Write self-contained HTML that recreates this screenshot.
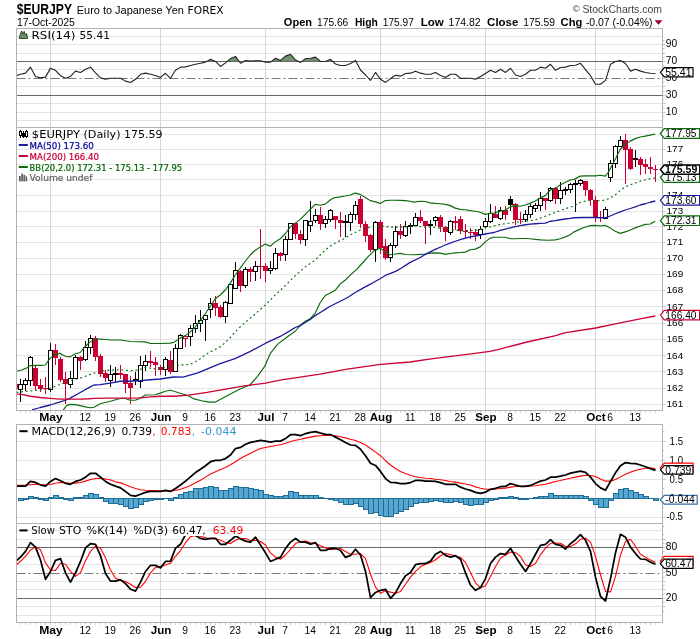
<!DOCTYPE html>
<html lang="en"><head><meta charset="utf-8"><title>$EURJPY Euro to Japanese Yen FOREX - StockCharts.com</title>
<style>html,body{margin:0;padding:0;background:#fff}svg{display:block;will-change:transform}text{white-space:pre}</style></head>
<body>
<svg width="700" height="639" viewBox="0 0 700 639" shape-rendering="auto">
<rect width="700" height="639" fill="#fff"/>
<defs>
<clipPath id="cR"><rect x="16.5" y="28.5" width="646.0" height="99.0"/></clipPath>
<clipPath id="cM"><rect x="16.5" y="127.5" width="646.0" height="283.0"/></clipPath>
<clipPath id="cD"><rect x="16.5" y="424.5" width="646.0" height="99.0"/></clipPath>
<clipPath id="cS"><rect x="16.5" y="536.0" width="229.5" height="86.5"/><rect x="246" y="523.5" width="416.5" height="99.0"/></clipPath>
</defs>
<text x="16.8" y="13.7" font-family="'Liberation Sans', 'Liberation Sans', sans-serif" font-size="14" font-weight="bold" fill="#000" text-anchor="start" textLength="55.2" lengthAdjust="spacingAndGlyphs" >$EURJPY</text>
<text x="76.8" y="14" font-family="'Liberation Sans', 'Liberation Sans', sans-serif" font-size="11" font-weight="normal" fill="#000" text-anchor="start" textLength="107" lengthAdjust="spacingAndGlyphs" >Euro to Japanese Yen</text>
<text x="187.6" y="14" font-family="'DejaVu Sans', 'Liberation Sans', sans-serif" font-size="10.4" font-weight="normal" fill="#000" text-anchor="start" textLength="36" lengthAdjust="spacingAndGlyphs" >FOREX</text>
<text x="17" y="26.3" font-family="'Liberation Sans', 'Liberation Sans', sans-serif" font-size="10.3" font-weight="normal" fill="#000" text-anchor="start" textLength="57.8" lengthAdjust="spacingAndGlyphs" >17-Oct-2025</text>
<text x="572.8" y="12.2" font-family="'Liberation Sans', 'Liberation Sans', sans-serif" font-size="9.6" font-weight="normal" fill="#444" text-anchor="start" >©</text>
<text x="582.4" y="12.6" font-family="'Liberation Sans', 'Liberation Sans', sans-serif" font-size="11.6" font-weight="normal" fill="#444" text-anchor="start" textLength="79.6" lengthAdjust="spacingAndGlyphs" >StockCharts.com</text>
<text x="283.8" y="26.2" font-family="'Liberation Sans', 'Liberation Sans', sans-serif" font-size="11" font-weight="bold" fill="#000" text-anchor="start" textLength="28.3" lengthAdjust="spacingAndGlyphs" >Open</text>
<text x="317" y="26.2" font-family="'Liberation Sans', 'Liberation Sans', sans-serif" font-size="10.3" font-weight="normal" fill="#000" text-anchor="start" textLength="31.3" lengthAdjust="spacingAndGlyphs" >175.66</text>
<text x="354.9" y="26.2" font-family="'Liberation Sans', 'Liberation Sans', sans-serif" font-size="11" font-weight="bold" fill="#000" text-anchor="start" textLength="23" lengthAdjust="spacingAndGlyphs" >High</text>
<text x="382.8" y="26.2" font-family="'Liberation Sans', 'Liberation Sans', sans-serif" font-size="10.3" font-weight="normal" fill="#000" text-anchor="start" textLength="31" lengthAdjust="spacingAndGlyphs" >175.97</text>
<text x="420.7" y="26.2" font-family="'Liberation Sans', 'Liberation Sans', sans-serif" font-size="11" font-weight="bold" fill="#000" text-anchor="start" textLength="23" lengthAdjust="spacingAndGlyphs" >Low</text>
<text x="448.6" y="26.2" font-family="'Liberation Sans', 'Liberation Sans', sans-serif" font-size="10.3" font-weight="normal" fill="#000" text-anchor="start" textLength="31.9" lengthAdjust="spacingAndGlyphs" >174.82</text>
<text x="487.1" y="26.2" font-family="'Liberation Sans', 'Liberation Sans', sans-serif" font-size="11" font-weight="bold" fill="#000" text-anchor="start" textLength="31.3" lengthAdjust="spacingAndGlyphs" >Close</text>
<text x="523.3" y="26.2" font-family="'Liberation Sans', 'Liberation Sans', sans-serif" font-size="10.3" font-weight="normal" fill="#000" text-anchor="start" textLength="31.6" lengthAdjust="spacingAndGlyphs" >175.59</text>
<text x="560.6" y="26.2" font-family="'Liberation Sans', 'Liberation Sans', sans-serif" font-size="11" font-weight="bold" fill="#000" text-anchor="start" textLength="21.7" lengthAdjust="spacingAndGlyphs" >Chg</text>
<text x="585.9" y="26.2" font-family="'Liberation Sans', 'Liberation Sans', sans-serif" font-size="10.4" font-weight="normal" fill="#000" text-anchor="start" textLength="66.5" lengthAdjust="spacingAndGlyphs" >-0.07 (-0.04%)</text>
<polygon points="654.6,20.3 662.4,20.3 658.5,24.7" fill="#990033"/>
<line x1="16.5" y1="120.5" x2="662.5" y2="120.5" stroke="#e4e4e4" stroke-width="1" />
<line x1="16.5" y1="112.5" x2="662.5" y2="112.5" stroke="#e4e4e4" stroke-width="1" />
<line x1="16.5" y1="103.5" x2="662.5" y2="103.5" stroke="#e4e4e4" stroke-width="1" />
<line x1="16.5" y1="86.5" x2="662.5" y2="86.5" stroke="#e4e4e4" stroke-width="1" />
<line x1="16.5" y1="69.5" x2="662.5" y2="69.5" stroke="#e4e4e4" stroke-width="1" />
<line x1="16.5" y1="53.5" x2="662.5" y2="53.5" stroke="#e4e4e4" stroke-width="1" />
<line x1="16.5" y1="44.5" x2="662.5" y2="44.5" stroke="#e4e4e4" stroke-width="1" />
<line x1="16.5" y1="36.5" x2="662.5" y2="36.5" stroke="#e4e4e4" stroke-width="1" />
<line x1="50.5" y1="28.5" x2="50.5" y2="129.5" stroke="#d6d6d6" stroke-width="1"/>
<line x1="160.5" y1="28.5" x2="160.5" y2="129.5" stroke="#d6d6d6" stroke-width="1"/>
<line x1="265.5" y1="28.5" x2="265.5" y2="129.5" stroke="#d6d6d6" stroke-width="1"/>
<line x1="380.5" y1="28.5" x2="380.5" y2="129.5" stroke="#d6d6d6" stroke-width="1"/>
<line x1="485.5" y1="28.5" x2="485.5" y2="129.5" stroke="#d6d6d6" stroke-width="1"/>
<line x1="595.5" y1="28.5" x2="595.5" y2="129.5" stroke="#d6d6d6" stroke-width="1"/>
<polygon clip-path="url(#cR)" points="16.5,61.47 16.5,61.47 20.5,61.47 25.5,61.47 30.5,61.47 35.5,61.47 40.5,61.47 45.5,61.47 50.5,61.47 55.5,61.47 60.5,61.47 65.5,61.47 70.5,61.47 75.5,61.47 80.5,61.47 85.5,61.47 90.5,61.47 95.5,61.47 100.5,61.47 105.5,61.47 110.5,61.47 115.5,61.47 120.5,61.47 125.5,61.47 130.5,61.47 135.5,61.47 140.5,61.47 145.5,61.47 150.5,61.47 155.5,61.47 160.5,61.47 165.5,61.47 170.5,61.47 175.5,61.47 180.5,61.47 185.5,61.47 190.5,61.47 195.5,61.47 200.5,61.47 205.5,61.47 206.67,61.47 210.5,59.29 215.5,61.43 215.55,61.47 220.5,61.47 225.5,61.47 227.11,61.47 230.5,58.57 235.5,56.43 239.18,61.47 240.5,61.47 243.67,61.47 245.5,60.43 250.5,61.14 255.5,60.71 260.5,60.71 263.16,61.47 265.5,61.47 270.5,61.47 271.37,61.47 275.5,58.29 280.5,60.43 285.5,56.14 290.5,54.29 295.5,60 298.54,61.47 300.5,61.47 301.74,61.47 305.5,58.57 310.5,58.29 315.5,57.14 320.5,61.43 325.5,61.43 330.5,59.29 332.82,61.47 335.5,61.47 340.5,61.47 345.5,61.47 350.5,61.47 353.84,61.47 355.5,60.43 356.05,61.47 360.5,61.47 365.5,61.47 370.5,61.47 375.5,61.47 380.5,61.47 385.5,61.47 390.5,61.47 395.5,61.47 400.5,61.47 405.5,61.47 410.5,61.47 415.5,61.47 420.5,61.47 425.5,61.47 430.5,61.47 435.5,61.47 440.5,61.47 445.5,61.47 450.5,61.47 455.5,61.47 460.5,61.47 465.5,61.47 470.5,61.47 475.5,61.47 480.5,61.47 485.5,61.47 490.5,61.47 495.5,61.47 500.5,61.47 505.5,61.47 510.5,61.47 515.5,61.47 520.5,61.47 525.5,61.47 530.5,61.47 535.5,61.47 540.5,61.47 545.5,61.47 550.5,61.47 555.5,61.47 560.5,61.47 565.5,61.47 570.5,61.47 575.5,61.47 580.5,61.47 585.5,61.47 590.5,61.47 595.5,61.47 600.5,61.47 605.5,61.47 610.5,61.47 615.42,61.47 615.5,61.43 620.5,60.43 622.16,61.47 625.5,61.47 630.5,61.47 635.5,61.47 640.5,61.47 645.5,61.47 650.5,61.47 655.5,61.47 655.5,61.47" fill="#6e936e"/>
<line x1="16.5" y1="61.5" x2="662.5" y2="61.5" stroke="#666" stroke-width="1" />
<line x1="16.5" y1="95.5" x2="662.5" y2="95.5" stroke="#666" stroke-width="1" />
<line x1="16.5" y1="78.5" x2="662.5" y2="78.5" stroke="#777" stroke-width="1" stroke-dasharray="9 3 2 3"/>
<polyline points="16.5,75.71 20.5,74.29 25.5,73.14 30.5,67.14 35.5,76.43 40.5,77.86 45.5,77.14 50.5,68.14 55.5,70.29 60.5,75.71 65.5,78.29 70.5,76.43 75.5,71.14 80.5,72.43 85.5,69.29 90.5,67.14 95.5,72.86 100.5,77.86 105.5,79.29 110.5,78.29 115.5,78.29 120.5,78.29 125.5,81.14 130.5,82.43 135.5,79.29 140.5,74.29 145.5,73.14 150.5,74.29 155.5,75.43 160.5,77.43 165.5,73.29 170.5,78.29 175.5,70.29 180.5,67.14 185.5,66.86 190.5,65.43 195.5,64.29 200.5,63.29 205.5,62.14 210.5,59.29 215.5,61.43 220.5,66.43 225.5,62.86 230.5,58.57 235.5,56.43 240.5,63.29 245.5,60.43 250.5,61.14 255.5,60.71 260.5,60.71 265.5,62.14 270.5,62.14 275.5,58.29 280.5,60.43 285.5,56.14 290.5,54.29 295.5,60 300.5,62.43 305.5,58.57 310.5,58.29 315.5,57.14 320.5,61.43 325.5,61.43 330.5,59.29 335.5,64 340.5,65.43 345.5,65.43 350.5,63.57 355.5,60.43 360.5,70 365.5,75 370.5,80.43 375.5,72.43 380.5,79.29 385.5,82.43 390.5,78.57 395.5,75.29 400.5,76.14 405.5,73.57 410.5,73.14 415.5,71.14 420.5,73.14 425.5,74.29 430.5,74.29 435.5,72.43 440.5,75.43 445.5,77.57 450.5,74.29 455.5,74.29 460.5,78.14 465.5,78.29 470.5,78.29 475.5,79.29 480.5,76.43 485.5,73.57 490.5,70.29 495.5,72.43 500.5,69.29 505.5,72.43 510.5,68.29 515.5,75 520.5,76.43 525.5,74.29 530.5,70.29 535.5,70.29 540.5,67.14 545.5,68.29 550.5,64.29 555.5,70.29 560.5,67.43 565.5,67.14 570.5,65.43 575.5,65.29 580.5,63.29 585.5,69.57 590.5,75.71 595.5,84.29 600.5,84.29 605.5,80.43 610.5,64.29 615.5,61.43 620.5,60.43 625.5,63.57 630.5,71.14 635.5,69.29 640.5,71.14 645.5,72.43 650.5,73.29 655.5,73.57" fill="none" stroke="#222" stroke-width="1.1" stroke-linejoin="round" stroke-linecap="butt" />
<rect x="16.5" y="28.5" width="646.0" height="99.0" fill="none" stroke="#b2b2b2" stroke-width="1"/>
<line x1="662.5" y1="116.5" x2="664.5" y2="116.5" stroke="#c0c0c0" stroke-width="1"/>
<line x1="662.5" y1="108.5" x2="664.5" y2="108.5" stroke="#c0c0c0" stroke-width="1"/>
<line x1="662.5" y1="99.5" x2="664.5" y2="99.5" stroke="#c0c0c0" stroke-width="1"/>
<line x1="662.5" y1="91.5" x2="664.5" y2="91.5" stroke="#c0c0c0" stroke-width="1"/>
<line x1="662.5" y1="82.5" x2="664.5" y2="82.5" stroke="#c0c0c0" stroke-width="1"/>
<line x1="662.5" y1="74.5" x2="664.5" y2="74.5" stroke="#c0c0c0" stroke-width="1"/>
<line x1="662.5" y1="65.5" x2="664.5" y2="65.5" stroke="#c0c0c0" stroke-width="1"/>
<line x1="662.5" y1="57.5" x2="664.5" y2="57.5" stroke="#c0c0c0" stroke-width="1"/>
<line x1="662.5" y1="48.5" x2="664.5" y2="48.5" stroke="#c0c0c0" stroke-width="1"/>
<line x1="662.5" y1="40.5" x2="664.5" y2="40.5" stroke="#c0c0c0" stroke-width="1"/>
<line x1="662.5" y1="112.5" x2="665.5" y2="112.5" stroke="#c4c4c4" stroke-width="1"/>
<line x1="662.5" y1="103.5" x2="665.5" y2="103.5" stroke="#c4c4c4" stroke-width="1"/>
<line x1="662.5" y1="95.5" x2="665.5" y2="95.5" stroke="#c4c4c4" stroke-width="1"/>
<line x1="662.5" y1="86.5" x2="665.5" y2="86.5" stroke="#c4c4c4" stroke-width="1"/>
<line x1="662.5" y1="78.5" x2="665.5" y2="78.5" stroke="#c4c4c4" stroke-width="1"/>
<line x1="662.5" y1="69.5" x2="665.5" y2="69.5" stroke="#c4c4c4" stroke-width="1"/>
<line x1="662.5" y1="61.5" x2="665.5" y2="61.5" stroke="#c4c4c4" stroke-width="1"/>
<line x1="662.5" y1="53.5" x2="665.5" y2="53.5" stroke="#c4c4c4" stroke-width="1"/>
<line x1="662.5" y1="44.5" x2="665.5" y2="44.5" stroke="#c4c4c4" stroke-width="1"/>
<text x="665.8" y="47.42" font-family="'Liberation Sans', 'Liberation Sans', sans-serif" font-size="10.3" font-weight="normal" fill="#000" text-anchor="start" textLength="11.4" lengthAdjust="spacingAndGlyphs" >90</text>
<text x="665.8" y="64.38" font-family="'Liberation Sans', 'Liberation Sans', sans-serif" font-size="10.3" font-weight="normal" fill="#000" text-anchor="start" textLength="11.4" lengthAdjust="spacingAndGlyphs" >70</text>
<text x="665.8" y="81.33" font-family="'Liberation Sans', 'Liberation Sans', sans-serif" font-size="10.3" font-weight="normal" fill="#000" text-anchor="start" textLength="11.4" lengthAdjust="spacingAndGlyphs" >50</text>
<text x="665.8" y="98.28" font-family="'Liberation Sans', 'Liberation Sans', sans-serif" font-size="10.3" font-weight="normal" fill="#000" text-anchor="start" textLength="11.4" lengthAdjust="spacingAndGlyphs" >30</text>
<text x="665.8" y="115.23" font-family="'Liberation Sans', 'Liberation Sans', sans-serif" font-size="10.3" font-weight="normal" fill="#000" text-anchor="start" textLength="11.4" lengthAdjust="spacingAndGlyphs" >10</text>
<polygon points="660.4,72.3 664.3,67.7 693,67.7 693,76.9 664.3,76.9" fill="#fff" stroke="#000" stroke-width="1.2" stroke-linejoin="miter"/>
<text x="665.3" y="75.9" font-family="'Liberation Sans', 'Liberation Sans', sans-serif" font-size="10" font-weight="normal" fill="#000" text-anchor="start" textLength="26.2" lengthAdjust="spacingAndGlyphs" >55.41</text>
<polygon points="19.2,38.4 19.6,36.2 21.6,31 23,34.2 24.2,31.4 25.6,35.2 26.6,33.6 27.6,38.4" fill="#6e936e" stroke="#1d3a1d" stroke-width="0.9" stroke-linejoin="round"/>
<text x="31.6" y="38.7" font-family="'DejaVu Sans', 'Liberation Sans', sans-serif" font-size="9.7" font-weight="normal" fill="#000" text-anchor="start" textLength="43.8" lengthAdjust="spacingAndGlyphs" >RSI(14)</text>
<text x="79.6" y="38.7" font-family="'DejaVu Sans', 'Liberation Sans', sans-serif" font-size="9.7" font-weight="normal" fill="#000" text-anchor="start" textLength="30.3" lengthAdjust="spacingAndGlyphs" >55.41</text>
<line x1="16.5" y1="404.5" x2="662.5" y2="404.5" stroke="#e4e4e4" stroke-width="1" />
<line x1="16.5" y1="388.5" x2="662.5" y2="388.5" stroke="#e4e4e4" stroke-width="1" />
<line x1="16.5" y1="371.5" x2="662.5" y2="371.5" stroke="#e4e4e4" stroke-width="1" />
<line x1="16.5" y1="355.5" x2="662.5" y2="355.5" stroke="#e4e4e4" stroke-width="1" />
<line x1="16.5" y1="339.5" x2="662.5" y2="339.5" stroke="#e4e4e4" stroke-width="1" />
<line x1="16.5" y1="323.5" x2="662.5" y2="323.5" stroke="#e4e4e4" stroke-width="1" />
<line x1="16.5" y1="306.5" x2="662.5" y2="306.5" stroke="#e4e4e4" stroke-width="1" />
<line x1="16.5" y1="290.5" x2="662.5" y2="290.5" stroke="#e4e4e4" stroke-width="1" />
<line x1="16.5" y1="274.5" x2="662.5" y2="274.5" stroke="#e4e4e4" stroke-width="1" />
<line x1="16.5" y1="258.5" x2="662.5" y2="258.5" stroke="#e4e4e4" stroke-width="1" />
<line x1="16.5" y1="242.5" x2="662.5" y2="242.5" stroke="#e4e4e4" stroke-width="1" />
<line x1="16.5" y1="226.5" x2="662.5" y2="226.5" stroke="#e4e4e4" stroke-width="1" />
<line x1="16.5" y1="211.5" x2="662.5" y2="211.5" stroke="#e4e4e4" stroke-width="1" />
<line x1="16.5" y1="195.5" x2="662.5" y2="195.5" stroke="#e4e4e4" stroke-width="1" />
<line x1="16.5" y1="179.5" x2="662.5" y2="179.5" stroke="#e4e4e4" stroke-width="1" />
<line x1="16.5" y1="164.5" x2="662.5" y2="164.5" stroke="#e4e4e4" stroke-width="1" />
<line x1="16.5" y1="149.5" x2="662.5" y2="149.5" stroke="#e4e4e4" stroke-width="1" />
<line x1="16.5" y1="134.5" x2="662.5" y2="134.5" stroke="#e4e4e4" stroke-width="1" />
<line x1="50.5" y1="127.5" x2="50.5" y2="412.5" stroke="#d6d6d6" stroke-width="1"/>
<line x1="160.5" y1="127.5" x2="160.5" y2="412.5" stroke="#d6d6d6" stroke-width="1"/>
<line x1="265.5" y1="127.5" x2="265.5" y2="412.5" stroke="#d6d6d6" stroke-width="1"/>
<line x1="380.5" y1="127.5" x2="380.5" y2="412.5" stroke="#d6d6d6" stroke-width="1"/>
<line x1="485.5" y1="127.5" x2="485.5" y2="412.5" stroke="#d6d6d6" stroke-width="1"/>
<line x1="595.5" y1="127.5" x2="595.5" y2="412.5" stroke="#d6d6d6" stroke-width="1"/>
<g clip-path="url(#cM)">
<rect x="15" y="384" width="1" height="5" fill="#cc0033"/>
<rect x="13" y="384" width="5" height="5" fill="#cc0033"/>
<rect x="20" y="379" width="1" height="23" fill="#000"/>
<rect x="18.5" y="384.5" width="4" height="5" fill="#fff" stroke="#000" stroke-width="1"/>
<rect x="25" y="378" width="1" height="13" fill="#000"/>
<rect x="23.5" y="380.5" width="4" height="4" fill="#fff" stroke="#000" stroke-width="1"/>
<rect x="30" y="356" width="1" height="30" fill="#000"/>
<rect x="28.5" y="357.5" width="4" height="23" fill="#fff" stroke="#000" stroke-width="1"/>
<rect x="35" y="366" width="1" height="24" fill="#cc0033"/>
<rect x="33" y="368" width="5" height="18" fill="#cc0033"/>
<rect x="40" y="379" width="1" height="13" fill="#cc0033"/>
<rect x="38" y="385" width="5" height="4" fill="#cc0033"/>
<rect x="45" y="377" width="1" height="17" fill="#cc0033"/>
<rect x="43" y="388" width="5" height="1" fill="#cc0033"/>
<rect x="50" y="343" width="1" height="49" fill="#000"/>
<rect x="48.5" y="350.5" width="4" height="39" fill="#fff" stroke="#000" stroke-width="1"/>
<rect x="55" y="344" width="1" height="21" fill="#cc0033"/>
<rect x="53" y="350" width="5" height="8" fill="#cc0033"/>
<rect x="60" y="357" width="1" height="25" fill="#cc0033"/>
<rect x="58" y="359" width="5" height="21" fill="#cc0033"/>
<rect x="65" y="372" width="1" height="32" fill="#cc0033"/>
<rect x="63" y="379" width="5" height="5" fill="#cc0033"/>
<rect x="70" y="371" width="1" height="17" fill="#000"/>
<rect x="68.5" y="378.5" width="4" height="6" fill="#fff" stroke="#000" stroke-width="1"/>
<rect x="75" y="355" width="1" height="24" fill="#000"/>
<rect x="73.5" y="357.5" width="4" height="21" fill="#fff" stroke="#000" stroke-width="1"/>
<rect x="80" y="356" width="1" height="14" fill="#cc0033"/>
<rect x="78" y="357" width="5" height="4" fill="#cc0033"/>
<rect x="85" y="341" width="1" height="20" fill="#000"/>
<rect x="83.5" y="347.5" width="4" height="12" fill="#fff" stroke="#000" stroke-width="1"/>
<rect x="90" y="335" width="1" height="19" fill="#000"/>
<rect x="88.5" y="338.5" width="4" height="9" fill="#fff" stroke="#000" stroke-width="1"/>
<rect x="95" y="336" width="1" height="25" fill="#cc0033"/>
<rect x="93" y="338" width="5" height="19" fill="#cc0033"/>
<rect x="100" y="354" width="1" height="23" fill="#cc0033"/>
<rect x="98" y="356" width="5" height="18" fill="#cc0033"/>
<rect x="105" y="370" width="1" height="12" fill="#cc0033"/>
<rect x="103" y="373" width="5" height="5" fill="#cc0033"/>
<rect x="110" y="365" width="1" height="22" fill="#000"/>
<rect x="108.5" y="374.5" width="4" height="6" fill="#fff" stroke="#000" stroke-width="1"/>
<rect x="115" y="367" width="1" height="15" fill="#000"/>
<rect x="113" y="373" width="5" height="2" fill="#000"/>
<rect x="120" y="365" width="1" height="14" fill="#cc0033"/>
<rect x="118" y="373" width="5" height="2" fill="#cc0033"/>
<rect x="125" y="374" width="1" height="19" fill="#cc0033"/>
<rect x="123" y="374" width="5" height="10" fill="#cc0033"/>
<rect x="130" y="376" width="1" height="28" fill="#cc0033"/>
<rect x="128" y="383" width="5" height="5" fill="#cc0033"/>
<rect x="135" y="372" width="1" height="13" fill="#000"/>
<rect x="133" y="379" width="5" height="2" fill="#000"/>
<rect x="140" y="356" width="1" height="32" fill="#000"/>
<rect x="138.5" y="365.5" width="4" height="16" fill="#fff" stroke="#000" stroke-width="1"/>
<rect x="145" y="355" width="1" height="16" fill="#000"/>
<rect x="143.5" y="361.5" width="4" height="4" fill="#fff" stroke="#000" stroke-width="1"/>
<rect x="150" y="351" width="1" height="16" fill="#cc0033"/>
<rect x="148" y="361" width="5" height="2" fill="#cc0033"/>
<rect x="155" y="357" width="1" height="19" fill="#cc0033"/>
<rect x="153" y="362" width="5" height="3" fill="#cc0033"/>
<rect x="160" y="365" width="1" height="10" fill="#cc0033"/>
<rect x="158" y="367" width="5" height="3" fill="#cc0033"/>
<rect x="165" y="357" width="1" height="19" fill="#000"/>
<rect x="163.5" y="359.5" width="4" height="10" fill="#fff" stroke="#000" stroke-width="1"/>
<rect x="170" y="351" width="1" height="23" fill="#cc0033"/>
<rect x="168" y="360" width="5" height="12" fill="#cc0033"/>
<rect x="175" y="344" width="1" height="28" fill="#000"/>
<rect x="173.5" y="348.5" width="4" height="23" fill="#fff" stroke="#000" stroke-width="1"/>
<rect x="180" y="334" width="1" height="15" fill="#000"/>
<rect x="178.5" y="335.5" width="4" height="13" fill="#fff" stroke="#000" stroke-width="1"/>
<rect x="185" y="336" width="1" height="11" fill="#cc0033"/>
<rect x="183.5" y="336.5" width="4" height="2" fill="#fff" stroke="#cc0033" stroke-width="1"/>
<rect x="190" y="325" width="1" height="21" fill="#000"/>
<rect x="188.5" y="328.5" width="4" height="8" fill="#fff" stroke="#000" stroke-width="1"/>
<rect x="195" y="315" width="1" height="18" fill="#000"/>
<rect x="193.5" y="323.5" width="4" height="5" fill="#fff" stroke="#000" stroke-width="1"/>
<rect x="200" y="310" width="1" height="22" fill="#000"/>
<rect x="198.5" y="320.5" width="4" height="3" fill="#fff" stroke="#000" stroke-width="1"/>
<rect x="205" y="315" width="1" height="26" fill="#000"/>
<rect x="203.5" y="315.5" width="4" height="4" fill="#fff" stroke="#000" stroke-width="1"/>
<rect x="210" y="298" width="1" height="20" fill="#000"/>
<rect x="208.5" y="303.5" width="4" height="6" fill="#fff" stroke="#000" stroke-width="1"/>
<rect x="215" y="296" width="1" height="20" fill="#cc0033"/>
<rect x="213" y="303" width="5" height="5" fill="#cc0033"/>
<rect x="220" y="305" width="1" height="13" fill="#cc0033"/>
<rect x="218" y="307" width="5" height="10" fill="#cc0033"/>
<rect x="225" y="301" width="1" height="22" fill="#000"/>
<rect x="223.5" y="302.5" width="4" height="14" fill="#fff" stroke="#000" stroke-width="1"/>
<rect x="230" y="284" width="1" height="20" fill="#000"/>
<rect x="228.5" y="284.5" width="4" height="19" fill="#fff" stroke="#000" stroke-width="1"/>
<rect x="235" y="262" width="1" height="27" fill="#000"/>
<rect x="233.5" y="270.5" width="4" height="18" fill="#fff" stroke="#000" stroke-width="1"/>
<rect x="240" y="270" width="1" height="22" fill="#cc0033"/>
<rect x="238" y="271" width="5" height="15" fill="#cc0033"/>
<rect x="245" y="267" width="1" height="21" fill="#000"/>
<rect x="243.5" y="269.5" width="4" height="16" fill="#fff" stroke="#000" stroke-width="1"/>
<rect x="250" y="267" width="1" height="15" fill="#cc0033"/>
<rect x="248" y="269" width="5" height="3" fill="#cc0033"/>
<rect x="255" y="261" width="1" height="20" fill="#000"/>
<rect x="253.5" y="266.5" width="4" height="5" fill="#fff" stroke="#000" stroke-width="1"/>
<rect x="260" y="229" width="1" height="50" fill="#cc0033"/>
<rect x="258" y="266" width="5" height="1" fill="#cc0033"/>
<rect x="265" y="263" width="1" height="19" fill="#cc0033"/>
<rect x="263" y="266" width="5" height="5" fill="#cc0033"/>
<rect x="270" y="261" width="1" height="13" fill="#000"/>
<rect x="268.5" y="268.5" width="4" height="2" fill="#fff" stroke="#000" stroke-width="1"/>
<rect x="275" y="248" width="1" height="22" fill="#000"/>
<rect x="273.5" y="253.5" width="4" height="15" fill="#fff" stroke="#000" stroke-width="1"/>
<rect x="280" y="252" width="1" height="9" fill="#cc0033"/>
<rect x="278" y="253" width="5" height="3" fill="#cc0033"/>
<rect x="285" y="236" width="1" height="25" fill="#000"/>
<rect x="283.5" y="239.5" width="4" height="15" fill="#fff" stroke="#000" stroke-width="1"/>
<rect x="290" y="223" width="1" height="17" fill="#000"/>
<rect x="288.5" y="223.5" width="4" height="16" fill="#fff" stroke="#000" stroke-width="1"/>
<rect x="295" y="223" width="1" height="16" fill="#cc0033"/>
<rect x="293" y="223" width="5" height="11" fill="#cc0033"/>
<rect x="300" y="230" width="1" height="14" fill="#cc0033"/>
<rect x="298" y="234" width="5" height="6" fill="#cc0033"/>
<rect x="305" y="220" width="1" height="26" fill="#000"/>
<rect x="303.5" y="220.5" width="4" height="19" fill="#fff" stroke="#000" stroke-width="1"/>
<rect x="310" y="201" width="1" height="31" fill="#000"/>
<rect x="308.5" y="221.5" width="4" height="4" fill="#fff" stroke="#000" stroke-width="1"/>
<rect x="315" y="209" width="1" height="14" fill="#000"/>
<rect x="313.5" y="215.5" width="4" height="5" fill="#fff" stroke="#000" stroke-width="1"/>
<rect x="320" y="207" width="1" height="23" fill="#cc0033"/>
<rect x="318" y="215" width="5" height="9" fill="#cc0033"/>
<rect x="325" y="216" width="1" height="12" fill="#000"/>
<rect x="323.5" y="219.5" width="4" height="4" fill="#fff" stroke="#000" stroke-width="1"/>
<rect x="330" y="209" width="1" height="13" fill="#000"/>
<rect x="328.5" y="210.5" width="4" height="9" fill="#fff" stroke="#000" stroke-width="1"/>
<rect x="335" y="216" width="1" height="13" fill="#cc0033"/>
<rect x="333" y="216" width="5" height="4" fill="#cc0033"/>
<rect x="340" y="212" width="1" height="25" fill="#cc0033"/>
<rect x="338" y="220" width="5" height="3" fill="#cc0033"/>
<rect x="345" y="215" width="1" height="22" fill="#000"/>
<rect x="343" y="221" width="5" height="2" fill="#000"/>
<rect x="350" y="212" width="1" height="19" fill="#000"/>
<rect x="348.5" y="214.5" width="4" height="8" fill="#fff" stroke="#000" stroke-width="1"/>
<rect x="355" y="201" width="1" height="19" fill="#000"/>
<rect x="353.5" y="205.5" width="4" height="9" fill="#fff" stroke="#000" stroke-width="1"/>
<rect x="360" y="196" width="1" height="32" fill="#cc0033"/>
<rect x="358" y="199" width="5" height="25" fill="#cc0033"/>
<rect x="365" y="221" width="1" height="21" fill="#cc0033"/>
<rect x="363" y="224" width="5" height="12" fill="#cc0033"/>
<rect x="370" y="234" width="1" height="18" fill="#cc0033"/>
<rect x="368" y="235" width="5" height="15" fill="#cc0033"/>
<rect x="375" y="221" width="1" height="41" fill="#000"/>
<rect x="373.5" y="222.5" width="4" height="27" fill="#fff" stroke="#000" stroke-width="1"/>
<rect x="380" y="220" width="1" height="34" fill="#cc0033"/>
<rect x="378" y="222" width="5" height="26" fill="#cc0033"/>
<rect x="385" y="239" width="1" height="21" fill="#cc0033"/>
<rect x="383" y="246" width="5" height="12" fill="#cc0033"/>
<rect x="390" y="243" width="1" height="19" fill="#000"/>
<rect x="388.5" y="245.5" width="4" height="12" fill="#fff" stroke="#000" stroke-width="1"/>
<rect x="395" y="226" width="1" height="22" fill="#000"/>
<rect x="393.5" y="231.5" width="4" height="14" fill="#fff" stroke="#000" stroke-width="1"/>
<rect x="400" y="224" width="1" height="15" fill="#cc0033"/>
<rect x="398" y="231" width="5" height="4" fill="#cc0033"/>
<rect x="405" y="221" width="1" height="16" fill="#000"/>
<rect x="403.5" y="226.5" width="4" height="9" fill="#fff" stroke="#000" stroke-width="1"/>
<rect x="410" y="223" width="1" height="11" fill="#000"/>
<rect x="408" y="225" width="5" height="2" fill="#000"/>
<rect x="415" y="213" width="1" height="13" fill="#000"/>
<rect x="413.5" y="217.5" width="4" height="8" fill="#fff" stroke="#000" stroke-width="1"/>
<rect x="420" y="210" width="1" height="13" fill="#cc0033"/>
<rect x="418" y="217" width="5" height="4" fill="#cc0033"/>
<rect x="425" y="221" width="1" height="23" fill="#cc0033"/>
<rect x="423" y="221" width="5" height="5" fill="#cc0033"/>
<rect x="430" y="220" width="1" height="15" fill="#000"/>
<rect x="428" y="224" width="5" height="2" fill="#000"/>
<rect x="435" y="216" width="1" height="10" fill="#000"/>
<rect x="433.5" y="217.5" width="4" height="3" fill="#fff" stroke="#000" stroke-width="1"/>
<rect x="440" y="215" width="1" height="17" fill="#cc0033"/>
<rect x="438" y="217" width="5" height="10" fill="#cc0033"/>
<rect x="445" y="226" width="1" height="15" fill="#cc0033"/>
<rect x="443" y="227" width="5" height="5" fill="#cc0033"/>
<rect x="450" y="220" width="1" height="15" fill="#000"/>
<rect x="448.5" y="221.5" width="4" height="11" fill="#fff" stroke="#000" stroke-width="1"/>
<rect x="455" y="216" width="1" height="14" fill="#cc0033"/>
<rect x="453" y="221" width="5" height="2" fill="#cc0033"/>
<rect x="460" y="216" width="1" height="18" fill="#cc0033"/>
<rect x="458" y="219" width="5" height="12" fill="#cc0033"/>
<rect x="465" y="224" width="1" height="14" fill="#cc0033"/>
<rect x="463" y="231" width="5" height="1" fill="#cc0033"/>
<rect x="470" y="228" width="1" height="11" fill="#cc0033"/>
<rect x="468" y="232" width="5" height="1" fill="#cc0033"/>
<rect x="475" y="229" width="1" height="12" fill="#cc0033"/>
<rect x="473" y="232" width="5" height="3" fill="#cc0033"/>
<rect x="480" y="226" width="1" height="13" fill="#000"/>
<rect x="478.5" y="229.5" width="4" height="5" fill="#fff" stroke="#000" stroke-width="1"/>
<rect x="485" y="218" width="1" height="10" fill="#000"/>
<rect x="483.5" y="221.5" width="4" height="5" fill="#fff" stroke="#000" stroke-width="1"/>
<rect x="490" y="204" width="1" height="19" fill="#000"/>
<rect x="488.5" y="213.5" width="4" height="8" fill="#fff" stroke="#000" stroke-width="1"/>
<rect x="495" y="206" width="1" height="12" fill="#cc0033"/>
<rect x="493" y="214" width="5" height="4" fill="#cc0033"/>
<rect x="500" y="207" width="1" height="13" fill="#000"/>
<rect x="498.5" y="210.5" width="4" height="8" fill="#fff" stroke="#000" stroke-width="1"/>
<rect x="505" y="206" width="1" height="14" fill="#cc0033"/>
<rect x="503" y="210" width="5" height="5" fill="#cc0033"/>
<rect x="510" y="196" width="1" height="15" fill="#000"/>
<rect x="508" y="199" width="5" height="6" fill="#000"/>
<rect x="515" y="203" width="1" height="22" fill="#cc0033"/>
<rect x="513" y="204" width="5" height="16" fill="#cc0033"/>
<rect x="520" y="212" width="1" height="12" fill="#cc0033"/>
<rect x="518" y="219" width="5" height="1" fill="#cc0033"/>
<rect x="525" y="210" width="1" height="12" fill="#000"/>
<rect x="523.5" y="214.5" width="4" height="5" fill="#fff" stroke="#000" stroke-width="1"/>
<rect x="530" y="204" width="1" height="14" fill="#000"/>
<rect x="528.5" y="206.5" width="4" height="8" fill="#fff" stroke="#000" stroke-width="1"/>
<rect x="535" y="203" width="1" height="9" fill="#000"/>
<rect x="533.5" y="205.5" width="4" height="3" fill="#fff" stroke="#000" stroke-width="1"/>
<rect x="540" y="192" width="1" height="19" fill="#000"/>
<rect x="538.5" y="198.5" width="4" height="7" fill="#fff" stroke="#000" stroke-width="1"/>
<rect x="545" y="198" width="1" height="12" fill="#cc0033"/>
<rect x="543" y="198" width="5" height="3" fill="#cc0033"/>
<rect x="550" y="187" width="1" height="15" fill="#000"/>
<rect x="548.5" y="188.5" width="4" height="12" fill="#fff" stroke="#000" stroke-width="1"/>
<rect x="555" y="187" width="1" height="17" fill="#cc0033"/>
<rect x="553" y="188" width="5" height="11" fill="#cc0033"/>
<rect x="560" y="182" width="1" height="22" fill="#000"/>
<rect x="558.5" y="190.5" width="4" height="8" fill="#fff" stroke="#000" stroke-width="1"/>
<rect x="565" y="187" width="1" height="8" fill="#000"/>
<rect x="563" y="189" width="5" height="2" fill="#000"/>
<rect x="570" y="183" width="1" height="10" fill="#000"/>
<rect x="568.5" y="184.5" width="4" height="5" fill="#fff" stroke="#000" stroke-width="1"/>
<rect x="575" y="180" width="1" height="32" fill="#000"/>
<rect x="573" y="183" width="5" height="2" fill="#000"/>
<rect x="580" y="179" width="1" height="7" fill="#000"/>
<rect x="578.5" y="180.5" width="4" height="3" fill="#fff" stroke="#000" stroke-width="1"/>
<rect x="585" y="181" width="1" height="15" fill="#cc0033"/>
<rect x="583" y="181" width="5" height="9" fill="#cc0033"/>
<rect x="590" y="189" width="1" height="17" fill="#cc0033"/>
<rect x="588" y="190" width="5" height="10" fill="#cc0033"/>
<rect x="595" y="196" width="1" height="26" fill="#cc0033"/>
<rect x="593" y="200" width="5" height="18" fill="#cc0033"/>
<rect x="600" y="211" width="1" height="11" fill="#cc0033"/>
<rect x="598" y="217" width="5" height="1" fill="#cc0033"/>
<rect x="605" y="207" width="1" height="12" fill="#000"/>
<rect x="603.5" y="209.5" width="4" height="9" fill="#fff" stroke="#000" stroke-width="1"/>
<rect x="610" y="160" width="1" height="22" fill="#000"/>
<rect x="608.5" y="163.5" width="4" height="14" fill="#fff" stroke="#000" stroke-width="1"/>
<rect x="615" y="145" width="1" height="23" fill="#000"/>
<rect x="613.5" y="146.5" width="4" height="17" fill="#fff" stroke="#000" stroke-width="1"/>
<rect x="620" y="136" width="1" height="11" fill="#000"/>
<rect x="618.5" y="140.5" width="4" height="6" fill="#fff" stroke="#000" stroke-width="1"/>
<rect x="625" y="134" width="1" height="50" fill="#cc0033"/>
<rect x="623" y="140" width="5" height="10" fill="#cc0033"/>
<rect x="630" y="147" width="1" height="23" fill="#cc0033"/>
<rect x="628" y="149" width="5" height="20" fill="#cc0033"/>
<rect x="635" y="150" width="1" height="17" fill="#000"/>
<rect x="633" y="158" width="5" height="2" fill="#000"/>
<rect x="640" y="157" width="1" height="18" fill="#cc0033"/>
<rect x="638" y="159" width="5" height="6" fill="#cc0033"/>
<rect x="645" y="159" width="1" height="15" fill="#cc0033"/>
<rect x="643" y="164" width="5" height="3" fill="#cc0033"/>
<rect x="650" y="157" width="1" height="17" fill="#cc0033"/>
<rect x="648" y="167" width="5" height="2" fill="#cc0033"/>
<rect x="655" y="165" width="1" height="17" fill="#cc0033"/>
<rect x="653" y="169" width="5" height="1" fill="#cc0033"/>
<polyline points="16.5,371.25 21.5,370 26.5,368.12 30.25,365.62 35.25,365.38 40.25,365.38 45.25,365 50.25,358.12 55.25,354.38 60.25,353.38 65.25,356.25 70.25,356.88 75.25,353.75 80.25,352.5 85.25,346.25 90.25,341.88 94,339.38 101.5,339 110.25,340 120.25,340 130.25,341.5 145.25,341.88 150.25,343.5 160.25,343.5 170.25,343.12 174,342.25 180.25,338.12 185.25,335.62 190.25,331.88 195.25,326.88 200.25,320.62 205.25,313.75 210.25,306.25 215.25,298.75 220.25,295 225.25,290 230.25,283.12 235.25,275 240.25,268.12 245.25,261.25 250.25,255 254,251.25 260.25,246.88 265.25,244.12 270.25,246.25 275.25,241.88 280.25,238.75 285.25,233.75 290.25,226.88 295.25,223.12 300.25,219.38 305.25,214.38 310.25,209.38 315.25,204.38 320.25,205.25 325.25,204.12 330.25,200 334,197.75 340.25,196.88 345.25,196 350.25,195 355.25,193.12 360.25,194.38 365.25,197.5 370.25,200.62 375.25,201.88 380.25,203.38 385.25,200.62 390.25,200.25 395.25,200.25 400.25,200.38 405.25,200.62 410.25,201.25 414,202.12 420.25,201.25 425.25,201.5 430.25,202.88 435.25,203.38 440.25,203.75 445.25,204.38 450.25,205.62 455.25,208.12 460.25,209.38 465.25,209.75 470.25,210.62 475.25,211.25 480.25,212.25 485.25,214.38 490.25,213.5 494,213.12 500.25,211.25 505.25,210 510.25,206.88 515.25,205.62 520.25,206.25 525.25,205 530.25,203.12 535.25,201 540.25,198.12 545.25,195.62 550.25,190 555.25,188.12 560.25,185 565.25,182.25 570.25,180 574,179.38 580.25,176.12 585.25,175.88 590.25,175.88 595.25,175.88 600.25,175.25 605.25,176.12 607.75,173 610.25,168.62 615.25,159.25 620.25,149.25 625.25,144.25 630.25,141.12 635.25,138.62 640.25,137 645.25,136.12 650.25,135.12 655.25,134" fill="none" stroke="#0a6b0a" stroke-width="1.15" stroke-linejoin="round" stroke-linecap="butt" />
<polyline points="63.38,409.88 66.5,405.62 70.25,404.38 75.25,404.62 80.25,405.62 85.25,406.88 90.25,407.75 94,407.25 100.25,403.75 110.25,401.25 120.25,398.5 125.25,398.5 130.25,400.25 135.25,400.25 140.25,398.12 145.25,395 155.25,394.75 160.25,393.12 165.25,391.25 170.25,390.25 174,391.25 179.3,393 188.6,395.8 194.1,398.9 201.6,400.8 209,402.1 215.5,402.1 222,398.6 231.3,393.4 240.6,388.7 249.9,385 257.3,376.6 264.7,366.4 270.3,353.4 277.7,344.1 288.8,335.8 295.25,331.25 300.25,325.3 305.25,321.25 310.25,318.75 315.25,313.1 320.25,302.5 325.25,295.6 330.25,293 335.1,290.3 340.3,283.8 345.4,280 351.9,273.6 357,269.1 363.4,262 368.6,256.2 373.7,251.1 380.1,248.2 385.3,251.7 389.8,254.7 394.3,254.3 400.1,253.4 405.8,254.5 414,254.7 420.25,254.38 425.25,254 430.25,253.12 435.25,252.88 440.25,253.12 445.25,254.38 450.25,253.5 455.25,252.88 460.25,252.5 465.25,252.12 470.25,249.75 475.25,249.12 480.25,246.88 485.25,241.88 490.25,238.12 494,237.25 500.25,237.25 505.25,237.25 510.25,238.75 515.25,238.75 520.25,238.5 525.25,238.5 530.25,238.75 535.25,239.38 540.25,239.88 547.75,240.25 555.25,239.88 560.25,238.75 565.25,236.88 570.25,234.75 574,231.88 584,227.5 590.25,225.62 595.25,225.38 600.25,226 605.25,225.38 610.25,228.12 615.25,231.25 620.25,233.38 625.25,231.88 630.25,230 635.25,227.88 640.25,226 645.25,224.38 650.25,224 655.25,221.25" fill="none" stroke="#0a6b0a" stroke-width="1.15" stroke-linejoin="round" stroke-linecap="butt" />
<polyline points="16.5,392.5 26.5,391.25 40.25,390 50.25,388.12 60.25,384.38 70.25,380.62 80.25,378.12 94,373.12 100.25,371.25 110.25,370 120.25,369.75 130.25,370.62 135.25,370.38 140.25,369.38 145.25,367.5 150.25,368.12 155.25,368.75 160.25,368.12 165.25,367.5 174,366.88 180.25,365 190.25,364.38 195.25,361.88 200.25,358.75 205.25,355 210.25,351.88 215.25,349.38 220.25,346.88 225.25,342.5 230.25,337.5 235.25,331.88 240.25,326.88 245.25,322.5 250.25,318.12 254,315 265.25,305 275.25,295 285.25,285.62 295.25,275.62 305.25,266.88 315.25,260 320.25,255 325.25,250 330.25,246.25 334,243.75 340.25,240.62 345.25,238.12 350.25,235 355.25,232.5 360.25,230 365.25,228.12 370.25,227.25 375.25,226.62 380.25,226 385.25,226.5 390.25,227.12 395.25,227.25 400.25,227.12 405.25,226.88 410.25,226.25 414,225.88 425.25,227.12 435.25,227.5 445.25,228.75 450.25,229.75 455.25,230 460.25,230.62 465.25,230.62 470.25,230.62 475.25,230.38 480.25,229.38 485.25,227.88 490.25,226.88 494,225.88 500.25,224.38 505.25,223.75 510.25,223.12 515.25,222.25 520.25,221.88 525.25,221.25 530.25,220.62 535.25,219.75 540.25,218.12 545.25,216.25 550.25,214.38 555.25,212.5 560.25,210.62 565.25,208.75 570.25,207.25 574,206 580.25,202.38 585.25,201.12 590.25,200.25 595.25,200.25 600.25,200.88 605.25,199.88 610.25,198 615.25,194.88 620.25,190.5 625.25,186.75 630.25,184.88 635.25,183 640.25,181.12 645.25,179.88 650.25,178.62 655.25,177.88" fill="none" stroke="#0a6b0a" stroke-width="1.15" stroke-linejoin="round" stroke-linecap="butt" stroke-dasharray="1.9 2.8"/>
<polyline points="32.12,409.88 40.25,407.5 50.25,405 60.25,401.88 65.25,400.25 70.25,398.12 80.25,392.5 90.25,386.88 94,385 100.25,384.62 110.25,383.12 120.25,381.25 130.25,381.25 140.25,380.62 150.25,379.75 160.25,379 170.25,377.5 174,377 183,377.2 197.9,372.9 220.1,363.6 235,358.6 249.9,351.6 265.6,343.2 281.4,335.8 290.25,330.6 295.25,327.5 300.25,325.6 305.25,322.5 310.25,319.4 315.25,315.6 320.25,312.5 325.25,309.4 330.25,306.25 337.7,302.5 346.7,298 355.7,292.2 364.7,287.1 371.1,283.8 380.1,278.7 386.6,274.8 395.6,271.4 402,267.8 409.7,262.6 420.25,257.5 425.25,254.38 430.25,251.88 435.25,249.38 440.25,247.25 445.25,245 450.25,243.12 455.25,241.25 460.25,239.62 465.25,238.12 470.25,236.88 475.25,236 480.25,235 485.25,234 490.25,233.12 494,232.5 500.25,230.38 505.25,229.12 510.25,227.88 515.25,226.62 520.25,225.62 525.25,224.75 530.25,224.12 535.25,223.75 540.25,223.38 545.25,223.12 550.25,221.25 555.25,220.62 560.25,219.75 565.25,219 570.25,218.38 574,217.75 584,217.5 595.25,217.5 600.25,217.75 605.25,217.75 610.25,216 615.25,213.75 620.25,211.88 625.25,210 630.25,208.5 635.25,206.88 640.25,205 645.25,203.75 650.25,202.25 655.25,201" fill="none" stroke="#1a1a9e" stroke-width="1.3" stroke-linejoin="round" stroke-linecap="butt" />
<polyline points="16.5,394.1 21.5,394.4 30.25,396.25 40.25,397.5 50.25,398.4 60.25,399.1 70.25,399.1 80.25,399.1 89,398.75 94,398.3 110.25,398.1 130.25,398.1 140.25,397.9 150.25,396.9 160.25,396.25 174,396.25 188.6,395.2 207.1,392.4 225.7,389.1 244.3,385.9 265.6,383.1 281.4,379.8 300,377.2 318.6,374.3 347.1,369.1 380.6,364.3 410,362 432.9,358.6 461.4,355.1 490,351.4 498.6,349.4 527.1,342 555.7,335.7 564.3,332.9 595.7,328 612.9,324.3 641.4,318.6 655.25,316" fill="none" stroke="#cc0033" stroke-width="1.3" stroke-linejoin="round" stroke-linecap="butt" />
</g>
<rect x="16.5" y="127.5" width="646.0" height="283.0" fill="none" stroke="#b2b2b2" stroke-width="1"/>
<line x1="20.5" y1="411.2" x2="20.5" y2="412.7" stroke="#c8c8c8" stroke-width="1"/>
<line x1="25.5" y1="411.2" x2="25.5" y2="412.7" stroke="#c8c8c8" stroke-width="1"/>
<line x1="30.5" y1="411.2" x2="30.5" y2="412.7" stroke="#c8c8c8" stroke-width="1"/>
<line x1="35.5" y1="411.2" x2="35.5" y2="412.7" stroke="#c8c8c8" stroke-width="1"/>
<line x1="40.5" y1="411.2" x2="40.5" y2="412.7" stroke="#c8c8c8" stroke-width="1"/>
<line x1="45.5" y1="411.2" x2="45.5" y2="412.7" stroke="#c8c8c8" stroke-width="1"/>
<line x1="50.5" y1="411.2" x2="50.5" y2="412.7" stroke="#c8c8c8" stroke-width="1"/>
<line x1="55.5" y1="411.2" x2="55.5" y2="412.7" stroke="#c8c8c8" stroke-width="1"/>
<line x1="60.5" y1="411.2" x2="60.5" y2="412.7" stroke="#c8c8c8" stroke-width="1"/>
<line x1="65.5" y1="411.2" x2="65.5" y2="412.7" stroke="#c8c8c8" stroke-width="1"/>
<line x1="70.5" y1="411.2" x2="70.5" y2="412.7" stroke="#c8c8c8" stroke-width="1"/>
<line x1="75.5" y1="411.2" x2="75.5" y2="412.7" stroke="#c8c8c8" stroke-width="1"/>
<line x1="80.5" y1="411.2" x2="80.5" y2="412.7" stroke="#c8c8c8" stroke-width="1"/>
<line x1="85.5" y1="411.2" x2="85.5" y2="412.7" stroke="#c8c8c8" stroke-width="1"/>
<line x1="90.5" y1="411.2" x2="90.5" y2="412.7" stroke="#c8c8c8" stroke-width="1"/>
<line x1="95.5" y1="411.2" x2="95.5" y2="412.7" stroke="#c8c8c8" stroke-width="1"/>
<line x1="100.5" y1="411.2" x2="100.5" y2="412.7" stroke="#c8c8c8" stroke-width="1"/>
<line x1="105.5" y1="411.2" x2="105.5" y2="412.7" stroke="#c8c8c8" stroke-width="1"/>
<line x1="110.5" y1="411.2" x2="110.5" y2="412.7" stroke="#c8c8c8" stroke-width="1"/>
<line x1="115.5" y1="411.2" x2="115.5" y2="412.7" stroke="#c8c8c8" stroke-width="1"/>
<line x1="120.5" y1="411.2" x2="120.5" y2="412.7" stroke="#c8c8c8" stroke-width="1"/>
<line x1="125.5" y1="411.2" x2="125.5" y2="412.7" stroke="#c8c8c8" stroke-width="1"/>
<line x1="130.5" y1="411.2" x2="130.5" y2="412.7" stroke="#c8c8c8" stroke-width="1"/>
<line x1="135.5" y1="411.2" x2="135.5" y2="412.7" stroke="#c8c8c8" stroke-width="1"/>
<line x1="140.5" y1="411.2" x2="140.5" y2="412.7" stroke="#c8c8c8" stroke-width="1"/>
<line x1="145.5" y1="411.2" x2="145.5" y2="412.7" stroke="#c8c8c8" stroke-width="1"/>
<line x1="150.5" y1="411.2" x2="150.5" y2="412.7" stroke="#c8c8c8" stroke-width="1"/>
<line x1="155.5" y1="411.2" x2="155.5" y2="412.7" stroke="#c8c8c8" stroke-width="1"/>
<line x1="160.5" y1="411.2" x2="160.5" y2="412.7" stroke="#c8c8c8" stroke-width="1"/>
<line x1="165.5" y1="411.2" x2="165.5" y2="412.7" stroke="#c8c8c8" stroke-width="1"/>
<line x1="170.5" y1="411.2" x2="170.5" y2="412.7" stroke="#c8c8c8" stroke-width="1"/>
<line x1="175.5" y1="411.2" x2="175.5" y2="412.7" stroke="#c8c8c8" stroke-width="1"/>
<line x1="180.5" y1="411.2" x2="180.5" y2="412.7" stroke="#c8c8c8" stroke-width="1"/>
<line x1="185.5" y1="411.2" x2="185.5" y2="412.7" stroke="#c8c8c8" stroke-width="1"/>
<line x1="190.5" y1="411.2" x2="190.5" y2="412.7" stroke="#c8c8c8" stroke-width="1"/>
<line x1="195.5" y1="411.2" x2="195.5" y2="412.7" stroke="#c8c8c8" stroke-width="1"/>
<line x1="200.5" y1="411.2" x2="200.5" y2="412.7" stroke="#c8c8c8" stroke-width="1"/>
<line x1="205.5" y1="411.2" x2="205.5" y2="412.7" stroke="#c8c8c8" stroke-width="1"/>
<line x1="210.5" y1="411.2" x2="210.5" y2="412.7" stroke="#c8c8c8" stroke-width="1"/>
<line x1="215.5" y1="411.2" x2="215.5" y2="412.7" stroke="#c8c8c8" stroke-width="1"/>
<line x1="220.5" y1="411.2" x2="220.5" y2="412.7" stroke="#c8c8c8" stroke-width="1"/>
<line x1="225.5" y1="411.2" x2="225.5" y2="412.7" stroke="#c8c8c8" stroke-width="1"/>
<line x1="230.5" y1="411.2" x2="230.5" y2="412.7" stroke="#c8c8c8" stroke-width="1"/>
<line x1="235.5" y1="411.2" x2="235.5" y2="412.7" stroke="#c8c8c8" stroke-width="1"/>
<line x1="240.5" y1="411.2" x2="240.5" y2="412.7" stroke="#c8c8c8" stroke-width="1"/>
<line x1="245.5" y1="411.2" x2="245.5" y2="412.7" stroke="#c8c8c8" stroke-width="1"/>
<line x1="250.5" y1="411.2" x2="250.5" y2="412.7" stroke="#c8c8c8" stroke-width="1"/>
<line x1="255.5" y1="411.2" x2="255.5" y2="412.7" stroke="#c8c8c8" stroke-width="1"/>
<line x1="260.5" y1="411.2" x2="260.5" y2="412.7" stroke="#c8c8c8" stroke-width="1"/>
<line x1="265.5" y1="411.2" x2="265.5" y2="412.7" stroke="#c8c8c8" stroke-width="1"/>
<line x1="270.5" y1="411.2" x2="270.5" y2="412.7" stroke="#c8c8c8" stroke-width="1"/>
<line x1="275.5" y1="411.2" x2="275.5" y2="412.7" stroke="#c8c8c8" stroke-width="1"/>
<line x1="280.5" y1="411.2" x2="280.5" y2="412.7" stroke="#c8c8c8" stroke-width="1"/>
<line x1="285.5" y1="411.2" x2="285.5" y2="412.7" stroke="#c8c8c8" stroke-width="1"/>
<line x1="290.5" y1="411.2" x2="290.5" y2="412.7" stroke="#c8c8c8" stroke-width="1"/>
<line x1="295.5" y1="411.2" x2="295.5" y2="412.7" stroke="#c8c8c8" stroke-width="1"/>
<line x1="300.5" y1="411.2" x2="300.5" y2="412.7" stroke="#c8c8c8" stroke-width="1"/>
<line x1="305.5" y1="411.2" x2="305.5" y2="412.7" stroke="#c8c8c8" stroke-width="1"/>
<line x1="310.5" y1="411.2" x2="310.5" y2="412.7" stroke="#c8c8c8" stroke-width="1"/>
<line x1="315.5" y1="411.2" x2="315.5" y2="412.7" stroke="#c8c8c8" stroke-width="1"/>
<line x1="320.5" y1="411.2" x2="320.5" y2="412.7" stroke="#c8c8c8" stroke-width="1"/>
<line x1="325.5" y1="411.2" x2="325.5" y2="412.7" stroke="#c8c8c8" stroke-width="1"/>
<line x1="330.5" y1="411.2" x2="330.5" y2="412.7" stroke="#c8c8c8" stroke-width="1"/>
<line x1="335.5" y1="411.2" x2="335.5" y2="412.7" stroke="#c8c8c8" stroke-width="1"/>
<line x1="340.5" y1="411.2" x2="340.5" y2="412.7" stroke="#c8c8c8" stroke-width="1"/>
<line x1="345.5" y1="411.2" x2="345.5" y2="412.7" stroke="#c8c8c8" stroke-width="1"/>
<line x1="350.5" y1="411.2" x2="350.5" y2="412.7" stroke="#c8c8c8" stroke-width="1"/>
<line x1="355.5" y1="411.2" x2="355.5" y2="412.7" stroke="#c8c8c8" stroke-width="1"/>
<line x1="360.5" y1="411.2" x2="360.5" y2="412.7" stroke="#c8c8c8" stroke-width="1"/>
<line x1="365.5" y1="411.2" x2="365.5" y2="412.7" stroke="#c8c8c8" stroke-width="1"/>
<line x1="370.5" y1="411.2" x2="370.5" y2="412.7" stroke="#c8c8c8" stroke-width="1"/>
<line x1="375.5" y1="411.2" x2="375.5" y2="412.7" stroke="#c8c8c8" stroke-width="1"/>
<line x1="380.5" y1="411.2" x2="380.5" y2="412.7" stroke="#c8c8c8" stroke-width="1"/>
<line x1="385.5" y1="411.2" x2="385.5" y2="412.7" stroke="#c8c8c8" stroke-width="1"/>
<line x1="390.5" y1="411.2" x2="390.5" y2="412.7" stroke="#c8c8c8" stroke-width="1"/>
<line x1="395.5" y1="411.2" x2="395.5" y2="412.7" stroke="#c8c8c8" stroke-width="1"/>
<line x1="400.5" y1="411.2" x2="400.5" y2="412.7" stroke="#c8c8c8" stroke-width="1"/>
<line x1="405.5" y1="411.2" x2="405.5" y2="412.7" stroke="#c8c8c8" stroke-width="1"/>
<line x1="410.5" y1="411.2" x2="410.5" y2="412.7" stroke="#c8c8c8" stroke-width="1"/>
<line x1="415.5" y1="411.2" x2="415.5" y2="412.7" stroke="#c8c8c8" stroke-width="1"/>
<line x1="420.5" y1="411.2" x2="420.5" y2="412.7" stroke="#c8c8c8" stroke-width="1"/>
<line x1="425.5" y1="411.2" x2="425.5" y2="412.7" stroke="#c8c8c8" stroke-width="1"/>
<line x1="430.5" y1="411.2" x2="430.5" y2="412.7" stroke="#c8c8c8" stroke-width="1"/>
<line x1="435.5" y1="411.2" x2="435.5" y2="412.7" stroke="#c8c8c8" stroke-width="1"/>
<line x1="440.5" y1="411.2" x2="440.5" y2="412.7" stroke="#c8c8c8" stroke-width="1"/>
<line x1="445.5" y1="411.2" x2="445.5" y2="412.7" stroke="#c8c8c8" stroke-width="1"/>
<line x1="450.5" y1="411.2" x2="450.5" y2="412.7" stroke="#c8c8c8" stroke-width="1"/>
<line x1="455.5" y1="411.2" x2="455.5" y2="412.7" stroke="#c8c8c8" stroke-width="1"/>
<line x1="460.5" y1="411.2" x2="460.5" y2="412.7" stroke="#c8c8c8" stroke-width="1"/>
<line x1="465.5" y1="411.2" x2="465.5" y2="412.7" stroke="#c8c8c8" stroke-width="1"/>
<line x1="470.5" y1="411.2" x2="470.5" y2="412.7" stroke="#c8c8c8" stroke-width="1"/>
<line x1="475.5" y1="411.2" x2="475.5" y2="412.7" stroke="#c8c8c8" stroke-width="1"/>
<line x1="480.5" y1="411.2" x2="480.5" y2="412.7" stroke="#c8c8c8" stroke-width="1"/>
<line x1="485.5" y1="411.2" x2="485.5" y2="412.7" stroke="#c8c8c8" stroke-width="1"/>
<line x1="490.5" y1="411.2" x2="490.5" y2="412.7" stroke="#c8c8c8" stroke-width="1"/>
<line x1="495.5" y1="411.2" x2="495.5" y2="412.7" stroke="#c8c8c8" stroke-width="1"/>
<line x1="500.5" y1="411.2" x2="500.5" y2="412.7" stroke="#c8c8c8" stroke-width="1"/>
<line x1="505.5" y1="411.2" x2="505.5" y2="412.7" stroke="#c8c8c8" stroke-width="1"/>
<line x1="510.5" y1="411.2" x2="510.5" y2="412.7" stroke="#c8c8c8" stroke-width="1"/>
<line x1="515.5" y1="411.2" x2="515.5" y2="412.7" stroke="#c8c8c8" stroke-width="1"/>
<line x1="520.5" y1="411.2" x2="520.5" y2="412.7" stroke="#c8c8c8" stroke-width="1"/>
<line x1="525.5" y1="411.2" x2="525.5" y2="412.7" stroke="#c8c8c8" stroke-width="1"/>
<line x1="530.5" y1="411.2" x2="530.5" y2="412.7" stroke="#c8c8c8" stroke-width="1"/>
<line x1="535.5" y1="411.2" x2="535.5" y2="412.7" stroke="#c8c8c8" stroke-width="1"/>
<line x1="540.5" y1="411.2" x2="540.5" y2="412.7" stroke="#c8c8c8" stroke-width="1"/>
<line x1="545.5" y1="411.2" x2="545.5" y2="412.7" stroke="#c8c8c8" stroke-width="1"/>
<line x1="550.5" y1="411.2" x2="550.5" y2="412.7" stroke="#c8c8c8" stroke-width="1"/>
<line x1="555.5" y1="411.2" x2="555.5" y2="412.7" stroke="#c8c8c8" stroke-width="1"/>
<line x1="560.5" y1="411.2" x2="560.5" y2="412.7" stroke="#c8c8c8" stroke-width="1"/>
<line x1="565.5" y1="411.2" x2="565.5" y2="412.7" stroke="#c8c8c8" stroke-width="1"/>
<line x1="570.5" y1="411.2" x2="570.5" y2="412.7" stroke="#c8c8c8" stroke-width="1"/>
<line x1="575.5" y1="411.2" x2="575.5" y2="412.7" stroke="#c8c8c8" stroke-width="1"/>
<line x1="580.5" y1="411.2" x2="580.5" y2="412.7" stroke="#c8c8c8" stroke-width="1"/>
<line x1="585.5" y1="411.2" x2="585.5" y2="412.7" stroke="#c8c8c8" stroke-width="1"/>
<line x1="590.5" y1="411.2" x2="590.5" y2="412.7" stroke="#c8c8c8" stroke-width="1"/>
<line x1="595.5" y1="411.2" x2="595.5" y2="412.7" stroke="#c8c8c8" stroke-width="1"/>
<line x1="600.5" y1="411.2" x2="600.5" y2="412.7" stroke="#c8c8c8" stroke-width="1"/>
<line x1="605.5" y1="411.2" x2="605.5" y2="412.7" stroke="#c8c8c8" stroke-width="1"/>
<line x1="610.5" y1="411.2" x2="610.5" y2="412.7" stroke="#c8c8c8" stroke-width="1"/>
<line x1="615.5" y1="411.2" x2="615.5" y2="412.7" stroke="#c8c8c8" stroke-width="1"/>
<line x1="620.5" y1="411.2" x2="620.5" y2="412.7" stroke="#c8c8c8" stroke-width="1"/>
<line x1="625.5" y1="411.2" x2="625.5" y2="412.7" stroke="#c8c8c8" stroke-width="1"/>
<line x1="630.5" y1="411.2" x2="630.5" y2="412.7" stroke="#c8c8c8" stroke-width="1"/>
<line x1="635.5" y1="411.2" x2="635.5" y2="412.7" stroke="#c8c8c8" stroke-width="1"/>
<line x1="640.5" y1="411.2" x2="640.5" y2="412.7" stroke="#c8c8c8" stroke-width="1"/>
<line x1="645.5" y1="411.2" x2="645.5" y2="412.7" stroke="#c8c8c8" stroke-width="1"/>
<line x1="650.5" y1="411.2" x2="650.5" y2="412.7" stroke="#c8c8c8" stroke-width="1"/>
<line x1="655.5" y1="411.2" x2="655.5" y2="412.7" stroke="#c8c8c8" stroke-width="1"/>
<line x1="662.5" y1="404.5" x2="665.5" y2="404.5" stroke="#c4c4c4" stroke-width="1"/>
<line x1="662.5" y1="388.5" x2="665.5" y2="388.5" stroke="#c4c4c4" stroke-width="1"/>
<line x1="662.5" y1="371.5" x2="665.5" y2="371.5" stroke="#c4c4c4" stroke-width="1"/>
<line x1="662.5" y1="355.5" x2="665.5" y2="355.5" stroke="#c4c4c4" stroke-width="1"/>
<line x1="662.5" y1="339.5" x2="665.5" y2="339.5" stroke="#c4c4c4" stroke-width="1"/>
<line x1="662.5" y1="323.5" x2="665.5" y2="323.5" stroke="#c4c4c4" stroke-width="1"/>
<line x1="662.5" y1="306.5" x2="665.5" y2="306.5" stroke="#c4c4c4" stroke-width="1"/>
<line x1="662.5" y1="290.5" x2="665.5" y2="290.5" stroke="#c4c4c4" stroke-width="1"/>
<line x1="662.5" y1="274.5" x2="665.5" y2="274.5" stroke="#c4c4c4" stroke-width="1"/>
<line x1="662.5" y1="258.5" x2="665.5" y2="258.5" stroke="#c4c4c4" stroke-width="1"/>
<line x1="662.5" y1="242.5" x2="665.5" y2="242.5" stroke="#c4c4c4" stroke-width="1"/>
<line x1="662.5" y1="226.5" x2="665.5" y2="226.5" stroke="#c4c4c4" stroke-width="1"/>
<line x1="662.5" y1="211.5" x2="665.5" y2="211.5" stroke="#c4c4c4" stroke-width="1"/>
<line x1="662.5" y1="195.5" x2="665.5" y2="195.5" stroke="#c4c4c4" stroke-width="1"/>
<line x1="662.5" y1="179.5" x2="665.5" y2="179.5" stroke="#c4c4c4" stroke-width="1"/>
<line x1="662.5" y1="164.5" x2="665.5" y2="164.5" stroke="#c4c4c4" stroke-width="1"/>
<line x1="662.5" y1="149.5" x2="665.5" y2="149.5" stroke="#c4c4c4" stroke-width="1"/>
<line x1="662.5" y1="134.5" x2="665.5" y2="134.5" stroke="#c4c4c4" stroke-width="1"/>
<text x="666.6" y="407.3" font-family="'Liberation Sans', 'Liberation Sans', sans-serif" font-size="9.7" font-weight="normal" fill="#000" text-anchor="start" textLength="16.6" lengthAdjust="spacingAndGlyphs" >161</text>
<text x="666.6" y="391" font-family="'Liberation Sans', 'Liberation Sans', sans-serif" font-size="9.7" font-weight="normal" fill="#000" text-anchor="start" textLength="16.6" lengthAdjust="spacingAndGlyphs" >162</text>
<text x="666.6" y="374.8" font-family="'Liberation Sans', 'Liberation Sans', sans-serif" font-size="9.7" font-weight="normal" fill="#000" text-anchor="start" textLength="16.6" lengthAdjust="spacingAndGlyphs" >163</text>
<text x="666.6" y="358.5" font-family="'Liberation Sans', 'Liberation Sans', sans-serif" font-size="9.7" font-weight="normal" fill="#000" text-anchor="start" textLength="16.6" lengthAdjust="spacingAndGlyphs" >164</text>
<text x="666.6" y="342.3" font-family="'Liberation Sans', 'Liberation Sans', sans-serif" font-size="9.7" font-weight="normal" fill="#000" text-anchor="start" textLength="16.6" lengthAdjust="spacingAndGlyphs" >165</text>
<text x="666.6" y="325.9" font-family="'Liberation Sans', 'Liberation Sans', sans-serif" font-size="9.7" font-weight="normal" fill="#000" text-anchor="start" textLength="16.6" lengthAdjust="spacingAndGlyphs" >166</text>
<text x="666.6" y="309.5" font-family="'Liberation Sans', 'Liberation Sans', sans-serif" font-size="9.7" font-weight="normal" fill="#000" text-anchor="start" textLength="16.6" lengthAdjust="spacingAndGlyphs" >167</text>
<text x="666.6" y="293.2" font-family="'Liberation Sans', 'Liberation Sans', sans-serif" font-size="9.7" font-weight="normal" fill="#000" text-anchor="start" textLength="16.6" lengthAdjust="spacingAndGlyphs" >168</text>
<text x="666.6" y="277.2" font-family="'Liberation Sans', 'Liberation Sans', sans-serif" font-size="9.7" font-weight="normal" fill="#000" text-anchor="start" textLength="16.6" lengthAdjust="spacingAndGlyphs" >169</text>
<text x="666.6" y="260.9" font-family="'Liberation Sans', 'Liberation Sans', sans-serif" font-size="9.7" font-weight="normal" fill="#000" text-anchor="start" textLength="16.6" lengthAdjust="spacingAndGlyphs" >170</text>
<text x="666.6" y="245.2" font-family="'Liberation Sans', 'Liberation Sans', sans-serif" font-size="9.7" font-weight="normal" fill="#000" text-anchor="start" textLength="16.6" lengthAdjust="spacingAndGlyphs" >171</text>
<text x="666.6" y="229.6" font-family="'Liberation Sans', 'Liberation Sans', sans-serif" font-size="9.7" font-weight="normal" fill="#000" text-anchor="start" textLength="16.6" lengthAdjust="spacingAndGlyphs" >172</text>
<text x="666.6" y="214.1" font-family="'Liberation Sans', 'Liberation Sans', sans-serif" font-size="9.7" font-weight="normal" fill="#000" text-anchor="start" textLength="16.6" lengthAdjust="spacingAndGlyphs" >173</text>
<text x="666.6" y="198.4" font-family="'Liberation Sans', 'Liberation Sans', sans-serif" font-size="9.7" font-weight="normal" fill="#000" text-anchor="start" textLength="16.6" lengthAdjust="spacingAndGlyphs" >174</text>
<text x="666.6" y="182.8" font-family="'Liberation Sans', 'Liberation Sans', sans-serif" font-size="9.7" font-weight="normal" fill="#000" text-anchor="start" textLength="16.6" lengthAdjust="spacingAndGlyphs" >175</text>
<text x="666.6" y="167.2" font-family="'Liberation Sans', 'Liberation Sans', sans-serif" font-size="9.7" font-weight="normal" fill="#000" text-anchor="start" textLength="16.6" lengthAdjust="spacingAndGlyphs" >176</text>
<text x="666.6" y="152.1" font-family="'Liberation Sans', 'Liberation Sans', sans-serif" font-size="9.7" font-weight="normal" fill="#000" text-anchor="start" textLength="16.6" lengthAdjust="spacingAndGlyphs" >177</text>
<polygon points="660.4,133.5 664.3,128.7 699.6,128.7 699.6,138.3 664.3,138.3" fill="#fff" stroke="#0a6b0a" stroke-width="1.2" stroke-linejoin="miter"/>
<text x="665.3" y="137.1" font-family="'Liberation Sans', 'Liberation Sans', sans-serif" font-size="10" font-weight="normal" fill="#000" text-anchor="start" textLength="31.2" lengthAdjust="spacingAndGlyphs" >177.95</text>
<polygon points="660.4,177.5 664.3,172.7 699.6,172.7 699.6,182.3 664.3,182.3" fill="#fff" stroke="#0a6b0a" stroke-width="1.2" stroke-linejoin="miter"/>
<text x="665.3" y="181.1" font-family="'Liberation Sans', 'Liberation Sans', sans-serif" font-size="10" font-weight="normal" fill="#000" text-anchor="start" textLength="31.2" lengthAdjust="spacingAndGlyphs" >175.13</text>
<polygon points="660.4,200.3 664.3,195.5 699.6,195.5 699.6,205.1 664.3,205.1" fill="#fff" stroke="#1a1a9e" stroke-width="1.2" stroke-linejoin="miter"/>
<text x="665.3" y="203.9" font-family="'Liberation Sans', 'Liberation Sans', sans-serif" font-size="10" font-weight="normal" fill="#000" text-anchor="start" textLength="31.2" lengthAdjust="spacingAndGlyphs" >173.60</text>
<polygon points="660.4,220.7 664.3,215.9 699.6,215.9 699.6,225.5 664.3,225.5" fill="#fff" stroke="#0a6b0a" stroke-width="1.2" stroke-linejoin="miter"/>
<text x="665.3" y="224.3" font-family="'Liberation Sans', 'Liberation Sans', sans-serif" font-size="10" font-weight="normal" fill="#000" text-anchor="start" textLength="31.2" lengthAdjust="spacingAndGlyphs" >172.31</text>
<polygon points="660.4,315.1 664.3,310.3 699.6,310.3 699.6,319.9 664.3,319.9" fill="#fff" stroke="#cc0033" stroke-width="1.2" stroke-linejoin="miter"/>
<text x="665.3" y="318.7" font-family="'Liberation Sans', 'Liberation Sans', sans-serif" font-size="10" font-weight="normal" fill="#000" text-anchor="start" textLength="31.2" lengthAdjust="spacingAndGlyphs" >166.40</text>
<polygon points="660.4,169.6 664.3,165 699.8,165 699.8,174.2 664.3,174.2" fill="#fff" stroke="#000" stroke-width="1.5" stroke-linejoin="miter"/>
<text x="664.9" y="173.2" font-family="'Liberation Sans', 'Liberation Sans', sans-serif" font-size="10.6" font-weight="bold" fill="#000" text-anchor="start" textLength="32.4" lengthAdjust="spacingAndGlyphs" >175.59</text>
<text x="51" y="421" font-family="'Liberation Sans', 'Liberation Sans', sans-serif" font-size="11.6" font-weight="bold" fill="#000" text-anchor="middle" textLength="23.6" lengthAdjust="spacingAndGlyphs" >May</text>
<text x="161" y="421" font-family="'Liberation Sans', 'Liberation Sans', sans-serif" font-size="11.6" font-weight="bold" fill="#000" text-anchor="middle" >Jun</text>
<text x="266" y="421" font-family="'Liberation Sans', 'Liberation Sans', sans-serif" font-size="11.6" font-weight="bold" fill="#000" text-anchor="middle" >Jul</text>
<text x="381" y="421" font-family="'Liberation Sans', 'Liberation Sans', sans-serif" font-size="11.6" font-weight="bold" fill="#000" text-anchor="middle" >Aug</text>
<text x="486" y="421" font-family="'Liberation Sans', 'Liberation Sans', sans-serif" font-size="11.6" font-weight="bold" fill="#000" text-anchor="middle" >Sep</text>
<text x="596" y="421" font-family="'Liberation Sans', 'Liberation Sans', sans-serif" font-size="11.6" font-weight="bold" fill="#000" text-anchor="middle" >Oct</text>
<text x="85.2" y="421" font-family="'Liberation Sans', 'Liberation Sans', sans-serif" font-size="10.2" font-weight="normal" fill="#000" text-anchor="middle" >12</text>
<text x="110.2" y="421" font-family="'Liberation Sans', 'Liberation Sans', sans-serif" font-size="10.2" font-weight="normal" fill="#000" text-anchor="middle" >19</text>
<text x="135.2" y="421" font-family="'Liberation Sans', 'Liberation Sans', sans-serif" font-size="10.2" font-weight="normal" fill="#000" text-anchor="middle" >26</text>
<text x="185.2" y="421" font-family="'Liberation Sans', 'Liberation Sans', sans-serif" font-size="10.2" font-weight="normal" fill="#000" text-anchor="middle" >9</text>
<text x="210.2" y="421" font-family="'Liberation Sans', 'Liberation Sans', sans-serif" font-size="10.2" font-weight="normal" fill="#000" text-anchor="middle" >16</text>
<text x="235.2" y="421" font-family="'Liberation Sans', 'Liberation Sans', sans-serif" font-size="10.2" font-weight="normal" fill="#000" text-anchor="middle" >23</text>
<text x="285.2" y="421" font-family="'Liberation Sans', 'Liberation Sans', sans-serif" font-size="10.2" font-weight="normal" fill="#000" text-anchor="middle" >7</text>
<text x="310.2" y="421" font-family="'Liberation Sans', 'Liberation Sans', sans-serif" font-size="10.2" font-weight="normal" fill="#000" text-anchor="middle" >14</text>
<text x="335.2" y="421" font-family="'Liberation Sans', 'Liberation Sans', sans-serif" font-size="10.2" font-weight="normal" fill="#000" text-anchor="middle" >21</text>
<text x="360.2" y="421" font-family="'Liberation Sans', 'Liberation Sans', sans-serif" font-size="10.2" font-weight="normal" fill="#000" text-anchor="middle" >28</text>
<text x="410.2" y="421" font-family="'Liberation Sans', 'Liberation Sans', sans-serif" font-size="10.2" font-weight="normal" fill="#000" text-anchor="middle" >11</text>
<text x="435.2" y="421" font-family="'Liberation Sans', 'Liberation Sans', sans-serif" font-size="10.2" font-weight="normal" fill="#000" text-anchor="middle" >18</text>
<text x="460.2" y="421" font-family="'Liberation Sans', 'Liberation Sans', sans-serif" font-size="10.2" font-weight="normal" fill="#000" text-anchor="middle" >25</text>
<text x="510.2" y="421" font-family="'Liberation Sans', 'Liberation Sans', sans-serif" font-size="10.2" font-weight="normal" fill="#000" text-anchor="middle" >8</text>
<text x="535.2" y="421" font-family="'Liberation Sans', 'Liberation Sans', sans-serif" font-size="10.2" font-weight="normal" fill="#000" text-anchor="middle" >15</text>
<text x="560.2" y="421" font-family="'Liberation Sans', 'Liberation Sans', sans-serif" font-size="10.2" font-weight="normal" fill="#000" text-anchor="middle" >22</text>
<text x="610.2" y="421" font-family="'Liberation Sans', 'Liberation Sans', sans-serif" font-size="10.2" font-weight="normal" fill="#000" text-anchor="middle" >6</text>
<text x="635.2" y="421" font-family="'Liberation Sans', 'Liberation Sans', sans-serif" font-size="10.2" font-weight="normal" fill="#000" text-anchor="middle" >13</text>
<g shape-rendering="crispEdges"><rect x="20" y="130" width="1" height="8" fill="#000"/><rect x="19.5" y="131.5" width="2" height="4" fill="#fff" stroke="#000" stroke-width="1"/><rect x="23" y="131" width="1" height="7" fill="#000"/><rect x="22" y="133" width="3" height="4" fill="#000"/><rect x="26" y="130" width="1" height="8" fill="#000"/><rect x="25.5" y="131.5" width="2" height="5" fill="#fff" stroke="#000" stroke-width="1"/></g>
<text x="31.8" y="138.2" font-family="'DejaVu Sans', 'Liberation Sans', sans-serif" font-size="9.7" font-weight="normal" fill="#000" text-anchor="start" textLength="48.2" lengthAdjust="spacingAndGlyphs" >$EURJPY</text>
<text x="83.5" y="138.2" font-family="'DejaVu Sans', 'Liberation Sans', sans-serif" font-size="9.7" font-weight="normal" fill="#000" text-anchor="start" textLength="37" lengthAdjust="spacingAndGlyphs" >(Daily)</text>
<text x="124" y="138.2" font-family="'DejaVu Sans', 'Liberation Sans', sans-serif" font-size="9.7" font-weight="normal" fill="#000" text-anchor="start" textLength="38.5" lengthAdjust="spacingAndGlyphs" >175.59</text>
<line x1="18.8" y1="145" x2="27.8" y2="145" stroke="#1a1a9e" stroke-width="2"/>
<text x="29.6" y="149.2" font-family="'DejaVu Sans Condensed', 'Liberation Sans', sans-serif" font-size="9.5" font-weight="normal" fill="#000099" text-anchor="start" textLength="64.2" lengthAdjust="spacingAndGlyphs" stroke="#000099" stroke-width="0.22">MA(50) 173.60</text>
<line x1="18.8" y1="156" x2="27.8" y2="156" stroke="#cc0033" stroke-width="2"/>
<text x="29.6" y="160.1" font-family="'DejaVu Sans Condensed', 'Liberation Sans', sans-serif" font-size="9.5" font-weight="normal" fill="#cc0033" text-anchor="start" textLength="69.4" lengthAdjust="spacingAndGlyphs" stroke="#cc0033" stroke-width="0.22">MA(200) 166.40</text>
<line x1="18.8" y1="167" x2="27.8" y2="167" stroke="#0a6b0a" stroke-width="2"/>
<text x="29.6" y="171" font-family="'DejaVu Sans Condensed', 'Liberation Sans', sans-serif" font-size="9.5" font-weight="normal" fill="#006600" text-anchor="start" textLength="152.6" lengthAdjust="spacingAndGlyphs" stroke="#006600" stroke-width="0.22">BB(20,2.0) 172.31 - 175.13 - 177.95</text>
<g fill="#666"><rect x="19" y="176" width="1.8" height="5.4"/><rect x="21.2" y="173.6" width="1.8" height="7.8"/><rect x="23.4" y="174.8" width="1.8" height="6.6"/><rect x="25.6" y="176.4" width="1.6" height="5"/></g>
<text x="29.6" y="180.8" font-family="'DejaVu Sans Condensed', 'Liberation Sans', sans-serif" font-size="9.5" font-weight="normal" fill="#666" text-anchor="start" textLength="62.8" lengthAdjust="spacingAndGlyphs" stroke="#666" stroke-width="0.22">Volume undef</text>
<line x1="16.5" y1="441.5" x2="662.5" y2="441.5" stroke="#e4e4e4" stroke-width="1" />
<line x1="16.5" y1="460.5" x2="662.5" y2="460.5" stroke="#e4e4e4" stroke-width="1" />
<line x1="16.5" y1="479.5" x2="662.5" y2="479.5" stroke="#e4e4e4" stroke-width="1" />
<line x1="16.5" y1="498.5" x2="662.5" y2="498.5" stroke="#e4e4e4" stroke-width="1" />
<line x1="16.5" y1="517.5" x2="662.5" y2="517.5" stroke="#e4e4e4" stroke-width="1" />
<line x1="50.5" y1="424.5" x2="50.5" y2="525.5" stroke="#d6d6d6" stroke-width="1"/>
<line x1="160.5" y1="424.5" x2="160.5" y2="525.5" stroke="#d6d6d6" stroke-width="1"/>
<line x1="265.5" y1="424.5" x2="265.5" y2="525.5" stroke="#d6d6d6" stroke-width="1"/>
<line x1="380.5" y1="424.5" x2="380.5" y2="525.5" stroke="#d6d6d6" stroke-width="1"/>
<line x1="485.5" y1="424.5" x2="485.5" y2="525.5" stroke="#d6d6d6" stroke-width="1"/>
<line x1="595.5" y1="424.5" x2="595.5" y2="525.5" stroke="#d6d6d6" stroke-width="1"/>
<g clip-path="url(#cD)">
<rect x="18.5" y="498.5" width="5" height="2" fill="#58a6d2" stroke="#1f6e96" stroke-width="1"/>
<rect x="23.5" y="498.5" width="5" height="1" fill="#58a6d2" stroke="#1f6e96" stroke-width="1"/>
<rect x="28.5" y="496.5" width="5" height="2" fill="#58a6d2" stroke="#1f6e96" stroke-width="1"/>
<rect x="33.5" y="497.5" width="5" height="1" fill="#58a6d2" stroke="#1f6e96" stroke-width="1"/>
<rect x="38.5" y="498.5" width="5" height="1" fill="#58a6d2" stroke="#1f6e96" stroke-width="1"/>
<rect x="43.5" y="498.5" width="5" height="2" fill="#58a6d2" stroke="#1f6e96" stroke-width="1"/>
<rect x="48.5" y="497.5" width="5" height="1" fill="#58a6d2" stroke="#1f6e96" stroke-width="1"/>
<rect x="53.5" y="495.5" width="5" height="3" fill="#58a6d2" stroke="#1f6e96" stroke-width="1"/>
<rect x="58.5" y="497.5" width="5" height="1" fill="#58a6d2" stroke="#1f6e96" stroke-width="1"/>
<rect x="63.5" y="498.5" width="5" height="1" fill="#58a6d2" stroke="#1f6e96" stroke-width="1"/>
<rect x="68.5" y="498.5" width="5" height="2" fill="#58a6d2" stroke="#1f6e96" stroke-width="1"/>
<rect x="73.5" y="497.5" width="5" height="1" fill="#58a6d2" stroke="#1f6e96" stroke-width="1"/>
<rect x="78.5" y="497.5" width="5" height="1" fill="#58a6d2" stroke="#1f6e96" stroke-width="1"/>
<rect x="83.5" y="495.5" width="5" height="3" fill="#58a6d2" stroke="#1f6e96" stroke-width="1"/>
<rect x="88.5" y="493.5" width="5" height="5" fill="#58a6d2" stroke="#1f6e96" stroke-width="1"/>
<rect x="93.5" y="494.5" width="5" height="4" fill="#58a6d2" stroke="#1f6e96" stroke-width="1"/>
<rect x="98.5" y="497.5" width="5" height="1" fill="#58a6d2" stroke="#1f6e96" stroke-width="1"/>
<rect x="103.5" y="498.5" width="5" height="3" fill="#58a6d2" stroke="#1f6e96" stroke-width="1"/>
<rect x="108.5" y="498.5" width="5" height="5" fill="#58a6d2" stroke="#1f6e96" stroke-width="1"/>
<rect x="113.5" y="498.5" width="5" height="5" fill="#58a6d2" stroke="#1f6e96" stroke-width="1"/>
<rect x="118.5" y="498.5" width="5" height="6" fill="#58a6d2" stroke="#1f6e96" stroke-width="1"/>
<rect x="123.5" y="498.5" width="5" height="8" fill="#58a6d2" stroke="#1f6e96" stroke-width="1"/>
<rect x="128.5" y="498.5" width="5" height="10" fill="#58a6d2" stroke="#1f6e96" stroke-width="1"/>
<rect x="133.5" y="498.5" width="5" height="9" fill="#58a6d2" stroke="#1f6e96" stroke-width="1"/>
<rect x="138.5" y="498.5" width="5" height="6" fill="#58a6d2" stroke="#1f6e96" stroke-width="1"/>
<rect x="143.5" y="498.5" width="5" height="3" fill="#58a6d2" stroke="#1f6e96" stroke-width="1"/>
<rect x="148.5" y="498.5" width="5" height="2" fill="#58a6d2" stroke="#1f6e96" stroke-width="1"/>
<rect x="153.5" y="498.5" width="5" height="1" fill="#58a6d2" stroke="#1f6e96" stroke-width="1"/>
<rect x="158.5" y="498.5" width="5" height="1" fill="#58a6d2" stroke="#1f6e96" stroke-width="1"/>
<rect x="163" y="498" width="6" height="1" fill="#1f6e96"/>
<rect x="168.5" y="498.5" width="5" height="2" fill="#58a6d2" stroke="#1f6e96" stroke-width="1"/>
<rect x="173.5" y="497.5" width="5" height="1" fill="#58a6d2" stroke="#1f6e96" stroke-width="1"/>
<rect x="178.5" y="494.5" width="5" height="4" fill="#58a6d2" stroke="#1f6e96" stroke-width="1"/>
<rect x="183.5" y="492.5" width="5" height="6" fill="#58a6d2" stroke="#1f6e96" stroke-width="1"/>
<rect x="188.5" y="491.5" width="5" height="7" fill="#58a6d2" stroke="#1f6e96" stroke-width="1"/>
<rect x="193.5" y="488.5" width="5" height="10" fill="#58a6d2" stroke="#1f6e96" stroke-width="1"/>
<rect x="198.5" y="488.5" width="5" height="10" fill="#58a6d2" stroke="#1f6e96" stroke-width="1"/>
<rect x="203.5" y="487.5" width="5" height="11" fill="#58a6d2" stroke="#1f6e96" stroke-width="1"/>
<rect x="208.5" y="486.5" width="5" height="12" fill="#58a6d2" stroke="#1f6e96" stroke-width="1"/>
<rect x="213.5" y="487.5" width="5" height="11" fill="#58a6d2" stroke="#1f6e96" stroke-width="1"/>
<rect x="218.5" y="490.5" width="5" height="8" fill="#58a6d2" stroke="#1f6e96" stroke-width="1"/>
<rect x="223.5" y="490.5" width="5" height="8" fill="#58a6d2" stroke="#1f6e96" stroke-width="1"/>
<rect x="228.5" y="488.5" width="5" height="10" fill="#58a6d2" stroke="#1f6e96" stroke-width="1"/>
<rect x="233.5" y="486.5" width="5" height="12" fill="#58a6d2" stroke="#1f6e96" stroke-width="1"/>
<rect x="238.5" y="487.5" width="5" height="11" fill="#58a6d2" stroke="#1f6e96" stroke-width="1"/>
<rect x="243.5" y="487.5" width="5" height="11" fill="#58a6d2" stroke="#1f6e96" stroke-width="1"/>
<rect x="248.5" y="488.5" width="5" height="10" fill="#58a6d2" stroke="#1f6e96" stroke-width="1"/>
<rect x="253.5" y="489.5" width="5" height="9" fill="#58a6d2" stroke="#1f6e96" stroke-width="1"/>
<rect x="258.5" y="490.5" width="5" height="8" fill="#58a6d2" stroke="#1f6e96" stroke-width="1"/>
<rect x="263.5" y="494.5" width="5" height="4" fill="#58a6d2" stroke="#1f6e96" stroke-width="1"/>
<rect x="268.5" y="495.5" width="5" height="3" fill="#58a6d2" stroke="#1f6e96" stroke-width="1"/>
<rect x="273.5" y="496.5" width="5" height="2" fill="#58a6d2" stroke="#1f6e96" stroke-width="1"/>
<rect x="278.5" y="496.5" width="5" height="2" fill="#58a6d2" stroke="#1f6e96" stroke-width="1"/>
<rect x="283.5" y="495.5" width="5" height="3" fill="#58a6d2" stroke="#1f6e96" stroke-width="1"/>
<rect x="288.5" y="491.5" width="5" height="7" fill="#58a6d2" stroke="#1f6e96" stroke-width="1"/>
<rect x="293.5" y="492.5" width="5" height="6" fill="#58a6d2" stroke="#1f6e96" stroke-width="1"/>
<rect x="298.5" y="495.5" width="5" height="3" fill="#58a6d2" stroke="#1f6e96" stroke-width="1"/>
<rect x="303.5" y="495.5" width="5" height="3" fill="#58a6d2" stroke="#1f6e96" stroke-width="1"/>
<rect x="308.5" y="495.5" width="5" height="3" fill="#58a6d2" stroke="#1f6e96" stroke-width="1"/>
<rect x="313.5" y="495.5" width="5" height="3" fill="#58a6d2" stroke="#1f6e96" stroke-width="1"/>
<rect x="318.5" y="497.5" width="5" height="1" fill="#58a6d2" stroke="#1f6e96" stroke-width="1"/>
<rect x="323" y="498" width="6" height="1" fill="#1f6e96"/>
<rect x="328.5" y="498.5" width="5" height="1" fill="#58a6d2" stroke="#1f6e96" stroke-width="1"/>
<rect x="333.5" y="498.5" width="5" height="2" fill="#58a6d2" stroke="#1f6e96" stroke-width="1"/>
<rect x="338.5" y="498.5" width="5" height="4" fill="#58a6d2" stroke="#1f6e96" stroke-width="1"/>
<rect x="343.5" y="498.5" width="5" height="6" fill="#58a6d2" stroke="#1f6e96" stroke-width="1"/>
<rect x="348.5" y="498.5" width="5" height="6" fill="#58a6d2" stroke="#1f6e96" stroke-width="1"/>
<rect x="353.5" y="498.5" width="5" height="5" fill="#58a6d2" stroke="#1f6e96" stroke-width="1"/>
<rect x="358.5" y="498.5" width="5" height="8" fill="#58a6d2" stroke="#1f6e96" stroke-width="1"/>
<rect x="363.5" y="498.5" width="5" height="11" fill="#58a6d2" stroke="#1f6e96" stroke-width="1"/>
<rect x="368.5" y="498.5" width="5" height="15" fill="#58a6d2" stroke="#1f6e96" stroke-width="1"/>
<rect x="373.5" y="498.5" width="5" height="14" fill="#58a6d2" stroke="#1f6e96" stroke-width="1"/>
<rect x="378.5" y="498.5" width="5" height="17" fill="#58a6d2" stroke="#1f6e96" stroke-width="1"/>
<rect x="383.5" y="498.5" width="5" height="18" fill="#58a6d2" stroke="#1f6e96" stroke-width="1"/>
<rect x="388.5" y="498.5" width="5" height="18" fill="#58a6d2" stroke="#1f6e96" stroke-width="1"/>
<rect x="393.5" y="498.5" width="5" height="15" fill="#58a6d2" stroke="#1f6e96" stroke-width="1"/>
<rect x="398.5" y="498.5" width="5" height="13" fill="#58a6d2" stroke="#1f6e96" stroke-width="1"/>
<rect x="403.5" y="498.5" width="5" height="11" fill="#58a6d2" stroke="#1f6e96" stroke-width="1"/>
<rect x="408.5" y="498.5" width="5" height="8" fill="#58a6d2" stroke="#1f6e96" stroke-width="1"/>
<rect x="413.5" y="498.5" width="5" height="5" fill="#58a6d2" stroke="#1f6e96" stroke-width="1"/>
<rect x="418.5" y="498.5" width="5" height="4" fill="#58a6d2" stroke="#1f6e96" stroke-width="1"/>
<rect x="423.5" y="498.5" width="5" height="4" fill="#58a6d2" stroke="#1f6e96" stroke-width="1"/>
<rect x="428.5" y="498.5" width="5" height="3" fill="#58a6d2" stroke="#1f6e96" stroke-width="1"/>
<rect x="433.5" y="498.5" width="5" height="2" fill="#58a6d2" stroke="#1f6e96" stroke-width="1"/>
<rect x="438.5" y="498.5" width="5" height="3" fill="#58a6d2" stroke="#1f6e96" stroke-width="1"/>
<rect x="443.5" y="498.5" width="5" height="4" fill="#58a6d2" stroke="#1f6e96" stroke-width="1"/>
<rect x="448.5" y="498.5" width="5" height="4" fill="#58a6d2" stroke="#1f6e96" stroke-width="1"/>
<rect x="453.5" y="498.5" width="5" height="3" fill="#58a6d2" stroke="#1f6e96" stroke-width="1"/>
<rect x="458.5" y="498.5" width="5" height="4" fill="#58a6d2" stroke="#1f6e96" stroke-width="1"/>
<rect x="463.5" y="498.5" width="5" height="6" fill="#58a6d2" stroke="#1f6e96" stroke-width="1"/>
<rect x="468.5" y="498.5" width="5" height="7" fill="#58a6d2" stroke="#1f6e96" stroke-width="1"/>
<rect x="473.5" y="498.5" width="5" height="6" fill="#58a6d2" stroke="#1f6e96" stroke-width="1"/>
<rect x="478.5" y="498.5" width="5" height="6" fill="#58a6d2" stroke="#1f6e96" stroke-width="1"/>
<rect x="483.5" y="498.5" width="5" height="4" fill="#58a6d2" stroke="#1f6e96" stroke-width="1"/>
<rect x="488.5" y="498.5" width="5" height="2" fill="#58a6d2" stroke="#1f6e96" stroke-width="1"/>
<rect x="493.5" y="498.5" width="5" height="1" fill="#58a6d2" stroke="#1f6e96" stroke-width="1"/>
<rect x="498.5" y="497.5" width="5" height="1" fill="#58a6d2" stroke="#1f6e96" stroke-width="1"/>
<rect x="503.5" y="497.5" width="5" height="1" fill="#58a6d2" stroke="#1f6e96" stroke-width="1"/>
<rect x="508.5" y="496.5" width="5" height="2" fill="#58a6d2" stroke="#1f6e96" stroke-width="1"/>
<rect x="513.5" y="497.5" width="5" height="1" fill="#58a6d2" stroke="#1f6e96" stroke-width="1"/>
<rect x="518.5" y="498.5" width="5" height="1" fill="#58a6d2" stroke="#1f6e96" stroke-width="1"/>
<rect x="523.5" y="498.5" width="5" height="1" fill="#58a6d2" stroke="#1f6e96" stroke-width="1"/>
<rect x="528" y="498" width="6" height="1" fill="#1f6e96"/>
<rect x="533.5" y="497.5" width="5" height="1" fill="#58a6d2" stroke="#1f6e96" stroke-width="1"/>
<rect x="538.5" y="496.5" width="5" height="2" fill="#58a6d2" stroke="#1f6e96" stroke-width="1"/>
<rect x="543.5" y="496.5" width="5" height="2" fill="#58a6d2" stroke="#1f6e96" stroke-width="1"/>
<rect x="548.5" y="493.5" width="5" height="5" fill="#58a6d2" stroke="#1f6e96" stroke-width="1"/>
<rect x="553.5" y="495.5" width="5" height="3" fill="#58a6d2" stroke="#1f6e96" stroke-width="1"/>
<rect x="558.5" y="495.5" width="5" height="3" fill="#58a6d2" stroke="#1f6e96" stroke-width="1"/>
<rect x="563.5" y="495.5" width="5" height="3" fill="#58a6d2" stroke="#1f6e96" stroke-width="1"/>
<rect x="568.5" y="495.5" width="5" height="3" fill="#58a6d2" stroke="#1f6e96" stroke-width="1"/>
<rect x="573.5" y="495.5" width="5" height="3" fill="#58a6d2" stroke="#1f6e96" stroke-width="1"/>
<rect x="578.5" y="495.5" width="5" height="3" fill="#58a6d2" stroke="#1f6e96" stroke-width="1"/>
<rect x="583.5" y="496.5" width="5" height="2" fill="#58a6d2" stroke="#1f6e96" stroke-width="1"/>
<rect x="588.5" y="498.5" width="5" height="2" fill="#58a6d2" stroke="#1f6e96" stroke-width="1"/>
<rect x="593.5" y="498.5" width="5" height="6" fill="#58a6d2" stroke="#1f6e96" stroke-width="1"/>
<rect x="598.5" y="498.5" width="5" height="9" fill="#58a6d2" stroke="#1f6e96" stroke-width="1"/>
<rect x="603.5" y="498.5" width="5" height="9" fill="#58a6d2" stroke="#1f6e96" stroke-width="1"/>
<rect x="608.5" y="498.5" width="5" height="2" fill="#58a6d2" stroke="#1f6e96" stroke-width="1"/>
<rect x="613.5" y="493.5" width="5" height="5" fill="#58a6d2" stroke="#1f6e96" stroke-width="1"/>
<rect x="618.5" y="489.5" width="5" height="9" fill="#58a6d2" stroke="#1f6e96" stroke-width="1"/>
<rect x="623.5" y="488.5" width="5" height="10" fill="#58a6d2" stroke="#1f6e96" stroke-width="1"/>
<rect x="628.5" y="490.5" width="5" height="8" fill="#58a6d2" stroke="#1f6e96" stroke-width="1"/>
<rect x="633.5" y="492.5" width="5" height="6" fill="#58a6d2" stroke="#1f6e96" stroke-width="1"/>
<rect x="638.5" y="494.5" width="5" height="4" fill="#58a6d2" stroke="#1f6e96" stroke-width="1"/>
<rect x="643.5" y="496.5" width="5" height="2" fill="#58a6d2" stroke="#1f6e96" stroke-width="1"/>
<rect x="648" y="498" width="6" height="1" fill="#1f6e96"/>
<rect x="653.5" y="498.5" width="5" height="2" fill="#58a6d2" stroke="#1f6e96" stroke-width="1"/>
<polyline points="16.5,485.29 20.5,485.29 25.5,485.29 30.5,484.71 35.5,484.29 40.5,484.57 45.5,485 50.5,484.57 55.5,483.29 60.5,482.57 65.5,482.86 70.5,483.29 75.5,483.14 80.5,482.43 85.5,481.14 90.5,479.57 95.5,478.57 100.5,478.29 105.5,479 110.5,480 115.5,481.71 120.5,482.86 125.5,484.71 130.5,486.71 135.5,488.57 140.5,489.71 145.5,490.29 150.5,490.43 155.5,490.71 160.5,491 165.5,491 170.5,491 175.5,490.43 180.5,489.29 185.5,487.57 190.5,485.43 195.5,482.86 200.5,480.29 205.5,477.14 210.5,474 215.5,471.71 220.5,469.57 225.5,467.43 230.5,464.71 235.5,461.71 240.5,458.57 245.5,455.71 250.5,453.29 255.5,450.71 260.5,448.57 265.5,447.43 270.5,446.43 275.5,445.43 280.5,444.71 285.5,443.29 290.5,441.43 295.5,440.29 300.5,439.29 305.5,438.14 310.5,437.14 315.5,436.14 320.5,435.71 325.5,435.43 330.5,435.29 335.5,435.71 340.5,436.71 345.5,437.86 350.5,439.29 355.5,440.43 360.5,442.43 365.5,445 370.5,448.57 375.5,452.14 380.5,455.71 385.5,460.71 390.5,465 395.5,468.57 400.5,471.43 405.5,473.57 410.5,475.43 415.5,476.71 420.5,477.57 425.5,478.29 430.5,478.57 435.5,479.29 440.5,479.71 445.5,480.43 450.5,481.43 455.5,482.14 460.5,483.14 465.5,484 470.5,485 475.5,486.86 480.5,488.29 485.5,489.29 490.5,489.29 495.5,489 500.5,488.57 505.5,488.14 510.5,487.14 515.5,486.43 520.5,486.43 525.5,486.14 530.5,486 535.5,485.71 540.5,485 545.5,484.29 550.5,482.86 555.5,481.43 560.5,480.43 565.5,479.29 570.5,478.29 575.5,477.14 580.5,476.14 585.5,475.29 590.5,475.43 595.5,476.43 600.5,479 605.5,481.14 610.5,481.14 615.5,479.57 620.5,476.86 625.5,474.29 630.5,472.14 635.5,470.43 640.5,469.29 645.5,468.29 650.5,468.14 655.5,468.57" fill="none" stroke="#ff0000" stroke-width="1.1" stroke-linejoin="round" stroke-linecap="butt" />
<polyline points="16.5,486.14 20.5,486.14 25.5,486.14 30.5,481.43 35.5,482.43 40.5,485 45.5,486.14 50.5,481.43 55.5,478.57 60.5,480.71 65.5,483.29 70.5,484.29 75.5,481.43 80.5,480 85.5,477.14 90.5,473.29 95.5,473.29 100.5,477.14 105.5,481.43 110.5,484.29 115.5,486.14 120.5,487.86 125.5,491.43 130.5,495.43 135.5,496.14 140.5,494.29 145.5,492.43 150.5,491.43 155.5,491.43 160.5,491.43 165.5,490.43 170.5,491.43 175.5,488.57 180.5,485 185.5,481.14 190.5,476.86 195.5,472.57 200.5,469.29 205.5,465.71 210.5,461.71 215.5,460.43 220.5,460.29 225.5,458.57 230.5,455 235.5,448.57 240.5,447.43 245.5,444.29 250.5,442.43 255.5,441.43 260.5,440.29 265.5,441.14 270.5,442.14 275.5,441.14 280.5,441.14 285.5,438.57 290.5,434.71 295.5,434.57 300.5,435.71 305.5,433.57 310.5,432.43 315.5,431.71 320.5,433.14 325.5,434.29 330.5,434.57 335.5,437.14 340.5,439.71 345.5,442.57 350.5,445 355.5,445.43 360.5,449.29 365.5,455.71 370.5,463.29 375.5,465.43 380.5,471.43 385.5,478.57 390.5,482.43 395.5,482.57 400.5,483.57 405.5,483.57 410.5,482.57 415.5,480.43 420.5,480.29 425.5,481.14 430.5,481.14 435.5,481.43 440.5,482.57 445.5,484.29 450.5,484.29 455.5,484.29 460.5,487.14 465.5,489 470.5,490.43 475.5,492.43 480.5,493.29 485.5,492.14 490.5,489.29 495.5,488.29 500.5,486.71 505.5,486.43 510.5,483.57 515.5,485 520.5,486.43 525.5,486.43 530.5,485.43 535.5,483.29 540.5,481.14 545.5,480 550.5,477.14 555.5,477.14 560.5,476.14 565.5,475 570.5,473.14 575.5,472.14 580.5,471.14 585.5,472.43 590.5,477.14 595.5,483.57 600.5,487.86 605.5,490.29 610.5,481.43 615.5,472.86 620.5,465.71 625.5,462.57 630.5,463.29 635.5,463.57 640.5,465 645.5,466.71 650.5,468.57 655.5,470.43" fill="none" stroke="#000" stroke-width="1.75" stroke-linejoin="round" stroke-linecap="butt" />
</g>
<rect x="16.5" y="424.5" width="646.0" height="99.0" fill="none" stroke="#b2b2b2" stroke-width="1"/>
<line x1="662.5" y1="526.5" x2="664.5" y2="526.5" stroke="#c0c0c0" stroke-width="1"/>
<line x1="662.5" y1="517.5" x2="664.5" y2="517.5" stroke="#c0c0c0" stroke-width="1"/>
<line x1="662.5" y1="507.5" x2="664.5" y2="507.5" stroke="#c0c0c0" stroke-width="1"/>
<line x1="662.5" y1="498.5" x2="664.5" y2="498.5" stroke="#c0c0c0" stroke-width="1"/>
<line x1="662.5" y1="488.5" x2="664.5" y2="488.5" stroke="#c0c0c0" stroke-width="1"/>
<line x1="662.5" y1="479.5" x2="664.5" y2="479.5" stroke="#c0c0c0" stroke-width="1"/>
<line x1="662.5" y1="469.5" x2="664.5" y2="469.5" stroke="#c0c0c0" stroke-width="1"/>
<line x1="662.5" y1="460.5" x2="664.5" y2="460.5" stroke="#c0c0c0" stroke-width="1"/>
<line x1="662.5" y1="450.5" x2="664.5" y2="450.5" stroke="#c0c0c0" stroke-width="1"/>
<line x1="662.5" y1="441.5" x2="664.5" y2="441.5" stroke="#c0c0c0" stroke-width="1"/>
<line x1="662.5" y1="431.5" x2="664.5" y2="431.5" stroke="#c0c0c0" stroke-width="1"/>
<line x1="662.5" y1="441.5" x2="665.5" y2="441.5" stroke="#c4c4c4" stroke-width="1"/>
<line x1="662.5" y1="460.5" x2="665.5" y2="460.5" stroke="#c4c4c4" stroke-width="1"/>
<line x1="662.5" y1="479.5" x2="665.5" y2="479.5" stroke="#c4c4c4" stroke-width="1"/>
<line x1="662.5" y1="498.5" x2="665.5" y2="498.5" stroke="#c4c4c4" stroke-width="1"/>
<line x1="662.5" y1="517.5" x2="665.5" y2="517.5" stroke="#c4c4c4" stroke-width="1"/>
<text x="669.6" y="444.65" font-family="'Liberation Sans', 'Liberation Sans', sans-serif" font-size="10.3" font-weight="normal" fill="#000" text-anchor="start" textLength="13.4" lengthAdjust="spacingAndGlyphs" >1.5</text>
<text x="669.6" y="463.6" font-family="'Liberation Sans', 'Liberation Sans', sans-serif" font-size="10.3" font-weight="normal" fill="#000" text-anchor="start" textLength="13.4" lengthAdjust="spacingAndGlyphs" >1.0</text>
<text x="669.6" y="482.55" font-family="'Liberation Sans', 'Liberation Sans', sans-serif" font-size="10.3" font-weight="normal" fill="#000" text-anchor="start" textLength="13.4" lengthAdjust="spacingAndGlyphs" >0.5</text>
<text x="669.6" y="501.5" font-family="'Liberation Sans', 'Liberation Sans', sans-serif" font-size="10.3" font-weight="normal" fill="#000" text-anchor="start" textLength="13.4" lengthAdjust="spacingAndGlyphs" >0.0</text>
<text x="666.3" y="520.25" font-family="'Liberation Sans', 'Liberation Sans', sans-serif" font-size="10.3" font-weight="normal" fill="#000" text-anchor="start" textLength="16.7" lengthAdjust="spacingAndGlyphs" >-0.5</text>
<polygon points="660.4,467.7 664.3,463.2 693,463.2 693,472.2 664.3,472.2" fill="#fff" stroke="#ff0000" stroke-width="1.2" stroke-linejoin="miter"/>
<polygon points="660.4,469.9 664.3,465.6 693,465.6 693,474.2 664.3,474.2" fill="#fff" stroke="#000" stroke-width="1.2" stroke-linejoin="miter"/>
<text x="665.3" y="473.5" font-family="'Liberation Sans', 'Liberation Sans', sans-serif" font-size="10" font-weight="normal" fill="#000" text-anchor="start" textLength="26" lengthAdjust="spacingAndGlyphs" >0.739</text>
<polygon points="660.4,499.7 664.3,495.3 697.2,495.3 697.2,504.1 664.3,504.1" fill="#fff" stroke="#3a6ea5" stroke-width="1.2" stroke-linejoin="miter"/>
<text x="665.3" y="503.3" font-family="'Liberation Sans', 'Liberation Sans', sans-serif" font-size="10" font-weight="normal" fill="#000" text-anchor="start" textLength="29.4" lengthAdjust="spacingAndGlyphs" >-0.044</text>
<line x1="19.4" y1="431.2" x2="27.6" y2="431.2" stroke="#000" stroke-width="2"/>
<text x="31.6" y="435.1" font-family="'DejaVu Sans', 'Liberation Sans', sans-serif" font-size="9.7" font-weight="normal" fill="#000" text-anchor="start" textLength="84.2" lengthAdjust="spacingAndGlyphs" >MACD(12,26,9)</text>
<text x="121.5" y="435.1" font-family="'DejaVu Sans', 'Liberation Sans', sans-serif" font-size="9.7" font-weight="normal" fill="#000" text-anchor="start" textLength="30.4" lengthAdjust="spacingAndGlyphs" >0.739</text>
<text x="152.6" y="435.1" font-family="'DejaVu Sans', 'Liberation Sans', sans-serif" font-size="9.7" font-weight="normal" fill="#ff0000" text-anchor="start" >,</text>
<text x="160.7" y="435.1" font-family="'DejaVu Sans', 'Liberation Sans', sans-serif" font-size="9.7" font-weight="normal" fill="#ff0000" text-anchor="start" textLength="30.5" lengthAdjust="spacingAndGlyphs" >0.783</text>
<text x="192" y="435.1" font-family="'DejaVu Sans', 'Liberation Sans', sans-serif" font-size="9.7" font-weight="normal" fill="#3399cc" text-anchor="start" >,</text>
<text x="201.1" y="435.1" font-family="'DejaVu Sans', 'Liberation Sans', sans-serif" font-size="9.7" font-weight="normal" fill="#3399cc" text-anchor="start" textLength="35.4" lengthAdjust="spacingAndGlyphs" >-0.044</text>
<line x1="16.5" y1="615.5" x2="662.5" y2="615.5" stroke="#e4e4e4" stroke-width="1" />
<line x1="16.5" y1="606.5" x2="662.5" y2="606.5" stroke="#e4e4e4" stroke-width="1" />
<line x1="16.5" y1="589.5" x2="662.5" y2="589.5" stroke="#e4e4e4" stroke-width="1" />
<line x1="16.5" y1="581.5" x2="662.5" y2="581.5" stroke="#e4e4e4" stroke-width="1" />
<line x1="16.5" y1="564.5" x2="662.5" y2="564.5" stroke="#e4e4e4" stroke-width="1" />
<line x1="16.5" y1="556.5" x2="662.5" y2="556.5" stroke="#e4e4e4" stroke-width="1" />
<line x1="16.5" y1="539.5" x2="662.5" y2="539.5" stroke="#e4e4e4" stroke-width="1" />
<line x1="16.5" y1="530.5" x2="662.5" y2="530.5" stroke="#e4e4e4" stroke-width="1" />
<line x1="50.5" y1="523.5" x2="50.5" y2="624.5" stroke="#d6d6d6" stroke-width="1"/>
<line x1="160.5" y1="523.5" x2="160.5" y2="624.5" stroke="#d6d6d6" stroke-width="1"/>
<line x1="265.5" y1="523.5" x2="265.5" y2="624.5" stroke="#d6d6d6" stroke-width="1"/>
<line x1="380.5" y1="523.5" x2="380.5" y2="624.5" stroke="#d6d6d6" stroke-width="1"/>
<line x1="485.5" y1="523.5" x2="485.5" y2="624.5" stroke="#d6d6d6" stroke-width="1"/>
<line x1="595.5" y1="523.5" x2="595.5" y2="624.5" stroke="#d6d6d6" stroke-width="1"/>
<line x1="16.5" y1="547.5" x2="662.5" y2="547.5" stroke="#666" stroke-width="1" />
<line x1="16.5" y1="598.5" x2="662.5" y2="598.5" stroke="#666" stroke-width="1" />
<line x1="16.5" y1="573.5" x2="662.5" y2="573.5" stroke="#777" stroke-width="1" stroke-dasharray="9 3 2 3"/>
<g clip-path="url(#cS)">
<polyline points="16.5,564.71 20.5,561.43 25.5,556.43 30.5,550 35.5,546.86 40.5,549.71 45.5,562.86 50.5,570 55.5,570.43 60.5,563.29 65.5,564.29 70.5,571.43 75.5,576.43 80.5,572.57 85.5,560.71 90.5,551.43 95.5,546 100.5,548.29 105.5,557.86 110.5,570 115.5,578.29 120.5,580 125.5,581.43 130.5,584.29 135.5,587.57 140.5,587.14 145.5,581.43 150.5,572.86 155.5,567.43 160.5,566.43 165.5,565 170.5,563.29 175.5,556.29 180.5,550.57 185.5,542.71 190.5,536.71 195.5,535.57 200.5,536.29 205.5,537.71 210.5,538.71 215.5,538.57 220.5,540.29 225.5,542.57 230.5,543.57 235.5,540.29 240.5,538.57 245.5,538.57 250.5,540.43 255.5,540.29 260.5,541.43 265.5,545 270.5,552.86 275.5,557.14 280.5,559.29 285.5,555 290.5,549.29 295.5,543.57 300.5,541.43 305.5,541.14 310.5,542.86 315.5,543.57 320.5,545.71 325.5,547.86 330.5,549.57 335.5,548.86 340.5,548.57 345.5,551.43 350.5,554.29 355.5,554.29 360.5,553.57 365.5,558.57 370.5,574.29 375.5,587.14 380.5,593.29 385.5,590.71 390.5,592.14 395.5,593.29 400.5,591.43 405.5,584.29 410.5,577.14 415.5,571.43 420.5,566.86 425.5,564.29 430.5,562.57 435.5,559.71 440.5,555.71 445.5,553.57 450.5,554.57 455.5,556 460.5,557.43 465.5,562.57 470.5,572.43 475.5,582.86 480.5,587.86 485.5,585.71 490.5,576.43 495.5,566.43 500.5,558.29 505.5,555 510.5,552.14 515.5,552.57 520.5,556.43 525.5,564.71 530.5,566.43 535.5,563.57 540.5,554.57 545.5,548.14 550.5,543.29 555.5,543.14 560.5,543.29 565.5,546.43 570.5,546.43 575.5,543.86 580.5,539.29 585.5,538.29 590.5,542.14 595.5,556.43 600.5,575 605.5,591.43 610.5,591.86 615.5,576.43 620.5,555 625.5,541.43 630.5,539.29 635.5,546.43 640.5,554.29 645.5,557.14 650.5,560 655.5,562.14" fill="none" stroke="#ff0000" stroke-width="1.1" stroke-linejoin="round" stroke-linecap="butt" />
<polyline points="16.5,560.71 20.5,557.14 25.5,551.43 30.5,542.57 35.5,547.14 40.5,560 45.5,579.29 50.5,571.43 55.5,560.43 60.5,558.57 65.5,572.86 70.5,582.14 75.5,572.86 80.5,561.43 85.5,547.86 90.5,543.57 95.5,544.29 100.5,555.71 105.5,573.57 110.5,581.14 115.5,581.14 120.5,579.71 125.5,583.57 130.5,589.29 135.5,591.14 140.5,582.14 145.5,571.43 150.5,565.29 155.5,565.29 160.5,567.86 165.5,561.43 170.5,561.14 175.5,548.29 180.5,544.29 185.5,534.57 190.5,532.71 195.5,535.57 200.5,538.43 205.5,539.43 210.5,538.43 215.5,538.29 220.5,544.29 225.5,544.29 230.5,540.29 235.5,536 240.5,538.86 245.5,541.14 250.5,542.14 255.5,537.14 260.5,545 265.5,552.86 270.5,561.43 275.5,559.29 280.5,557.14 285.5,548.57 290.5,542.14 295.5,538.57 300.5,542.14 305.5,542.14 310.5,544.29 315.5,542.57 320.5,550.43 325.5,550.43 330.5,548.29 335.5,548.29 340.5,550.43 345.5,557.43 350.5,555.43 355.5,549.29 360.5,555 365.5,571.43 370.5,597.57 375.5,592.43 380.5,590.29 385.5,589.29 390.5,598.29 395.5,592.86 400.5,583.57 405.5,575.71 410.5,572.57 415.5,564.71 420.5,563.57 425.5,563.57 430.5,561.14 435.5,554.29 440.5,551.43 445.5,555.43 450.5,557.14 455.5,555.71 460.5,559.29 465.5,572.86 470.5,585 475.5,590.29 480.5,587.57 485.5,578.57 490.5,563.57 495.5,557.14 500.5,553.57 505.5,554.29 510.5,548.29 515.5,556.43 520.5,564.29 525.5,571.43 530.5,563.57 535.5,554.29 540.5,545.29 545.5,544.29 550.5,539.71 555.5,544.29 560.5,545.29 565.5,549 570.5,543.57 575.5,539.71 580.5,534.57 585.5,540.29 590.5,551.43 595.5,577.14 600.5,596.43 605.5,601 610.5,578.57 615.5,552.86 620.5,534.29 625.5,537.14 630.5,547.14 635.5,553.57 640.5,559 645.5,559.29 650.5,562.14 655.5,564.29" fill="none" stroke="#000" stroke-width="1.75" stroke-linejoin="round" stroke-linecap="butt" />
</g>
<rect x="16.5" y="523.5" width="646.0" height="99.0" fill="none" stroke="#b2b2b2" stroke-width="1"/>
<line x1="20.5" y1="623.2" x2="20.5" y2="624.7" stroke="#c8c8c8" stroke-width="1"/>
<line x1="25.5" y1="623.2" x2="25.5" y2="624.7" stroke="#c8c8c8" stroke-width="1"/>
<line x1="30.5" y1="623.2" x2="30.5" y2="624.7" stroke="#c8c8c8" stroke-width="1"/>
<line x1="35.5" y1="623.2" x2="35.5" y2="624.7" stroke="#c8c8c8" stroke-width="1"/>
<line x1="40.5" y1="623.2" x2="40.5" y2="624.7" stroke="#c8c8c8" stroke-width="1"/>
<line x1="45.5" y1="623.2" x2="45.5" y2="624.7" stroke="#c8c8c8" stroke-width="1"/>
<line x1="50.5" y1="623.2" x2="50.5" y2="624.7" stroke="#c8c8c8" stroke-width="1"/>
<line x1="55.5" y1="623.2" x2="55.5" y2="624.7" stroke="#c8c8c8" stroke-width="1"/>
<line x1="60.5" y1="623.2" x2="60.5" y2="624.7" stroke="#c8c8c8" stroke-width="1"/>
<line x1="65.5" y1="623.2" x2="65.5" y2="624.7" stroke="#c8c8c8" stroke-width="1"/>
<line x1="70.5" y1="623.2" x2="70.5" y2="624.7" stroke="#c8c8c8" stroke-width="1"/>
<line x1="75.5" y1="623.2" x2="75.5" y2="624.7" stroke="#c8c8c8" stroke-width="1"/>
<line x1="80.5" y1="623.2" x2="80.5" y2="624.7" stroke="#c8c8c8" stroke-width="1"/>
<line x1="85.5" y1="623.2" x2="85.5" y2="624.7" stroke="#c8c8c8" stroke-width="1"/>
<line x1="90.5" y1="623.2" x2="90.5" y2="624.7" stroke="#c8c8c8" stroke-width="1"/>
<line x1="95.5" y1="623.2" x2="95.5" y2="624.7" stroke="#c8c8c8" stroke-width="1"/>
<line x1="100.5" y1="623.2" x2="100.5" y2="624.7" stroke="#c8c8c8" stroke-width="1"/>
<line x1="105.5" y1="623.2" x2="105.5" y2="624.7" stroke="#c8c8c8" stroke-width="1"/>
<line x1="110.5" y1="623.2" x2="110.5" y2="624.7" stroke="#c8c8c8" stroke-width="1"/>
<line x1="115.5" y1="623.2" x2="115.5" y2="624.7" stroke="#c8c8c8" stroke-width="1"/>
<line x1="120.5" y1="623.2" x2="120.5" y2="624.7" stroke="#c8c8c8" stroke-width="1"/>
<line x1="125.5" y1="623.2" x2="125.5" y2="624.7" stroke="#c8c8c8" stroke-width="1"/>
<line x1="130.5" y1="623.2" x2="130.5" y2="624.7" stroke="#c8c8c8" stroke-width="1"/>
<line x1="135.5" y1="623.2" x2="135.5" y2="624.7" stroke="#c8c8c8" stroke-width="1"/>
<line x1="140.5" y1="623.2" x2="140.5" y2="624.7" stroke="#c8c8c8" stroke-width="1"/>
<line x1="145.5" y1="623.2" x2="145.5" y2="624.7" stroke="#c8c8c8" stroke-width="1"/>
<line x1="150.5" y1="623.2" x2="150.5" y2="624.7" stroke="#c8c8c8" stroke-width="1"/>
<line x1="155.5" y1="623.2" x2="155.5" y2="624.7" stroke="#c8c8c8" stroke-width="1"/>
<line x1="160.5" y1="623.2" x2="160.5" y2="624.7" stroke="#c8c8c8" stroke-width="1"/>
<line x1="165.5" y1="623.2" x2="165.5" y2="624.7" stroke="#c8c8c8" stroke-width="1"/>
<line x1="170.5" y1="623.2" x2="170.5" y2="624.7" stroke="#c8c8c8" stroke-width="1"/>
<line x1="175.5" y1="623.2" x2="175.5" y2="624.7" stroke="#c8c8c8" stroke-width="1"/>
<line x1="180.5" y1="623.2" x2="180.5" y2="624.7" stroke="#c8c8c8" stroke-width="1"/>
<line x1="185.5" y1="623.2" x2="185.5" y2="624.7" stroke="#c8c8c8" stroke-width="1"/>
<line x1="190.5" y1="623.2" x2="190.5" y2="624.7" stroke="#c8c8c8" stroke-width="1"/>
<line x1="195.5" y1="623.2" x2="195.5" y2="624.7" stroke="#c8c8c8" stroke-width="1"/>
<line x1="200.5" y1="623.2" x2="200.5" y2="624.7" stroke="#c8c8c8" stroke-width="1"/>
<line x1="205.5" y1="623.2" x2="205.5" y2="624.7" stroke="#c8c8c8" stroke-width="1"/>
<line x1="210.5" y1="623.2" x2="210.5" y2="624.7" stroke="#c8c8c8" stroke-width="1"/>
<line x1="215.5" y1="623.2" x2="215.5" y2="624.7" stroke="#c8c8c8" stroke-width="1"/>
<line x1="220.5" y1="623.2" x2="220.5" y2="624.7" stroke="#c8c8c8" stroke-width="1"/>
<line x1="225.5" y1="623.2" x2="225.5" y2="624.7" stroke="#c8c8c8" stroke-width="1"/>
<line x1="230.5" y1="623.2" x2="230.5" y2="624.7" stroke="#c8c8c8" stroke-width="1"/>
<line x1="235.5" y1="623.2" x2="235.5" y2="624.7" stroke="#c8c8c8" stroke-width="1"/>
<line x1="240.5" y1="623.2" x2="240.5" y2="624.7" stroke="#c8c8c8" stroke-width="1"/>
<line x1="245.5" y1="623.2" x2="245.5" y2="624.7" stroke="#c8c8c8" stroke-width="1"/>
<line x1="250.5" y1="623.2" x2="250.5" y2="624.7" stroke="#c8c8c8" stroke-width="1"/>
<line x1="255.5" y1="623.2" x2="255.5" y2="624.7" stroke="#c8c8c8" stroke-width="1"/>
<line x1="260.5" y1="623.2" x2="260.5" y2="624.7" stroke="#c8c8c8" stroke-width="1"/>
<line x1="265.5" y1="623.2" x2="265.5" y2="624.7" stroke="#c8c8c8" stroke-width="1"/>
<line x1="270.5" y1="623.2" x2="270.5" y2="624.7" stroke="#c8c8c8" stroke-width="1"/>
<line x1="275.5" y1="623.2" x2="275.5" y2="624.7" stroke="#c8c8c8" stroke-width="1"/>
<line x1="280.5" y1="623.2" x2="280.5" y2="624.7" stroke="#c8c8c8" stroke-width="1"/>
<line x1="285.5" y1="623.2" x2="285.5" y2="624.7" stroke="#c8c8c8" stroke-width="1"/>
<line x1="290.5" y1="623.2" x2="290.5" y2="624.7" stroke="#c8c8c8" stroke-width="1"/>
<line x1="295.5" y1="623.2" x2="295.5" y2="624.7" stroke="#c8c8c8" stroke-width="1"/>
<line x1="300.5" y1="623.2" x2="300.5" y2="624.7" stroke="#c8c8c8" stroke-width="1"/>
<line x1="305.5" y1="623.2" x2="305.5" y2="624.7" stroke="#c8c8c8" stroke-width="1"/>
<line x1="310.5" y1="623.2" x2="310.5" y2="624.7" stroke="#c8c8c8" stroke-width="1"/>
<line x1="315.5" y1="623.2" x2="315.5" y2="624.7" stroke="#c8c8c8" stroke-width="1"/>
<line x1="320.5" y1="623.2" x2="320.5" y2="624.7" stroke="#c8c8c8" stroke-width="1"/>
<line x1="325.5" y1="623.2" x2="325.5" y2="624.7" stroke="#c8c8c8" stroke-width="1"/>
<line x1="330.5" y1="623.2" x2="330.5" y2="624.7" stroke="#c8c8c8" stroke-width="1"/>
<line x1="335.5" y1="623.2" x2="335.5" y2="624.7" stroke="#c8c8c8" stroke-width="1"/>
<line x1="340.5" y1="623.2" x2="340.5" y2="624.7" stroke="#c8c8c8" stroke-width="1"/>
<line x1="345.5" y1="623.2" x2="345.5" y2="624.7" stroke="#c8c8c8" stroke-width="1"/>
<line x1="350.5" y1="623.2" x2="350.5" y2="624.7" stroke="#c8c8c8" stroke-width="1"/>
<line x1="355.5" y1="623.2" x2="355.5" y2="624.7" stroke="#c8c8c8" stroke-width="1"/>
<line x1="360.5" y1="623.2" x2="360.5" y2="624.7" stroke="#c8c8c8" stroke-width="1"/>
<line x1="365.5" y1="623.2" x2="365.5" y2="624.7" stroke="#c8c8c8" stroke-width="1"/>
<line x1="370.5" y1="623.2" x2="370.5" y2="624.7" stroke="#c8c8c8" stroke-width="1"/>
<line x1="375.5" y1="623.2" x2="375.5" y2="624.7" stroke="#c8c8c8" stroke-width="1"/>
<line x1="380.5" y1="623.2" x2="380.5" y2="624.7" stroke="#c8c8c8" stroke-width="1"/>
<line x1="385.5" y1="623.2" x2="385.5" y2="624.7" stroke="#c8c8c8" stroke-width="1"/>
<line x1="390.5" y1="623.2" x2="390.5" y2="624.7" stroke="#c8c8c8" stroke-width="1"/>
<line x1="395.5" y1="623.2" x2="395.5" y2="624.7" stroke="#c8c8c8" stroke-width="1"/>
<line x1="400.5" y1="623.2" x2="400.5" y2="624.7" stroke="#c8c8c8" stroke-width="1"/>
<line x1="405.5" y1="623.2" x2="405.5" y2="624.7" stroke="#c8c8c8" stroke-width="1"/>
<line x1="410.5" y1="623.2" x2="410.5" y2="624.7" stroke="#c8c8c8" stroke-width="1"/>
<line x1="415.5" y1="623.2" x2="415.5" y2="624.7" stroke="#c8c8c8" stroke-width="1"/>
<line x1="420.5" y1="623.2" x2="420.5" y2="624.7" stroke="#c8c8c8" stroke-width="1"/>
<line x1="425.5" y1="623.2" x2="425.5" y2="624.7" stroke="#c8c8c8" stroke-width="1"/>
<line x1="430.5" y1="623.2" x2="430.5" y2="624.7" stroke="#c8c8c8" stroke-width="1"/>
<line x1="435.5" y1="623.2" x2="435.5" y2="624.7" stroke="#c8c8c8" stroke-width="1"/>
<line x1="440.5" y1="623.2" x2="440.5" y2="624.7" stroke="#c8c8c8" stroke-width="1"/>
<line x1="445.5" y1="623.2" x2="445.5" y2="624.7" stroke="#c8c8c8" stroke-width="1"/>
<line x1="450.5" y1="623.2" x2="450.5" y2="624.7" stroke="#c8c8c8" stroke-width="1"/>
<line x1="455.5" y1="623.2" x2="455.5" y2="624.7" stroke="#c8c8c8" stroke-width="1"/>
<line x1="460.5" y1="623.2" x2="460.5" y2="624.7" stroke="#c8c8c8" stroke-width="1"/>
<line x1="465.5" y1="623.2" x2="465.5" y2="624.7" stroke="#c8c8c8" stroke-width="1"/>
<line x1="470.5" y1="623.2" x2="470.5" y2="624.7" stroke="#c8c8c8" stroke-width="1"/>
<line x1="475.5" y1="623.2" x2="475.5" y2="624.7" stroke="#c8c8c8" stroke-width="1"/>
<line x1="480.5" y1="623.2" x2="480.5" y2="624.7" stroke="#c8c8c8" stroke-width="1"/>
<line x1="485.5" y1="623.2" x2="485.5" y2="624.7" stroke="#c8c8c8" stroke-width="1"/>
<line x1="490.5" y1="623.2" x2="490.5" y2="624.7" stroke="#c8c8c8" stroke-width="1"/>
<line x1="495.5" y1="623.2" x2="495.5" y2="624.7" stroke="#c8c8c8" stroke-width="1"/>
<line x1="500.5" y1="623.2" x2="500.5" y2="624.7" stroke="#c8c8c8" stroke-width="1"/>
<line x1="505.5" y1="623.2" x2="505.5" y2="624.7" stroke="#c8c8c8" stroke-width="1"/>
<line x1="510.5" y1="623.2" x2="510.5" y2="624.7" stroke="#c8c8c8" stroke-width="1"/>
<line x1="515.5" y1="623.2" x2="515.5" y2="624.7" stroke="#c8c8c8" stroke-width="1"/>
<line x1="520.5" y1="623.2" x2="520.5" y2="624.7" stroke="#c8c8c8" stroke-width="1"/>
<line x1="525.5" y1="623.2" x2="525.5" y2="624.7" stroke="#c8c8c8" stroke-width="1"/>
<line x1="530.5" y1="623.2" x2="530.5" y2="624.7" stroke="#c8c8c8" stroke-width="1"/>
<line x1="535.5" y1="623.2" x2="535.5" y2="624.7" stroke="#c8c8c8" stroke-width="1"/>
<line x1="540.5" y1="623.2" x2="540.5" y2="624.7" stroke="#c8c8c8" stroke-width="1"/>
<line x1="545.5" y1="623.2" x2="545.5" y2="624.7" stroke="#c8c8c8" stroke-width="1"/>
<line x1="550.5" y1="623.2" x2="550.5" y2="624.7" stroke="#c8c8c8" stroke-width="1"/>
<line x1="555.5" y1="623.2" x2="555.5" y2="624.7" stroke="#c8c8c8" stroke-width="1"/>
<line x1="560.5" y1="623.2" x2="560.5" y2="624.7" stroke="#c8c8c8" stroke-width="1"/>
<line x1="565.5" y1="623.2" x2="565.5" y2="624.7" stroke="#c8c8c8" stroke-width="1"/>
<line x1="570.5" y1="623.2" x2="570.5" y2="624.7" stroke="#c8c8c8" stroke-width="1"/>
<line x1="575.5" y1="623.2" x2="575.5" y2="624.7" stroke="#c8c8c8" stroke-width="1"/>
<line x1="580.5" y1="623.2" x2="580.5" y2="624.7" stroke="#c8c8c8" stroke-width="1"/>
<line x1="585.5" y1="623.2" x2="585.5" y2="624.7" stroke="#c8c8c8" stroke-width="1"/>
<line x1="590.5" y1="623.2" x2="590.5" y2="624.7" stroke="#c8c8c8" stroke-width="1"/>
<line x1="595.5" y1="623.2" x2="595.5" y2="624.7" stroke="#c8c8c8" stroke-width="1"/>
<line x1="600.5" y1="623.2" x2="600.5" y2="624.7" stroke="#c8c8c8" stroke-width="1"/>
<line x1="605.5" y1="623.2" x2="605.5" y2="624.7" stroke="#c8c8c8" stroke-width="1"/>
<line x1="610.5" y1="623.2" x2="610.5" y2="624.7" stroke="#c8c8c8" stroke-width="1"/>
<line x1="615.5" y1="623.2" x2="615.5" y2="624.7" stroke="#c8c8c8" stroke-width="1"/>
<line x1="620.5" y1="623.2" x2="620.5" y2="624.7" stroke="#c8c8c8" stroke-width="1"/>
<line x1="625.5" y1="623.2" x2="625.5" y2="624.7" stroke="#c8c8c8" stroke-width="1"/>
<line x1="630.5" y1="623.2" x2="630.5" y2="624.7" stroke="#c8c8c8" stroke-width="1"/>
<line x1="635.5" y1="623.2" x2="635.5" y2="624.7" stroke="#c8c8c8" stroke-width="1"/>
<line x1="640.5" y1="623.2" x2="640.5" y2="624.7" stroke="#c8c8c8" stroke-width="1"/>
<line x1="645.5" y1="623.2" x2="645.5" y2="624.7" stroke="#c8c8c8" stroke-width="1"/>
<line x1="650.5" y1="623.2" x2="650.5" y2="624.7" stroke="#c8c8c8" stroke-width="1"/>
<line x1="655.5" y1="623.2" x2="655.5" y2="624.7" stroke="#c8c8c8" stroke-width="1"/>
<line x1="662.5" y1="611.5" x2="664.5" y2="611.5" stroke="#c0c0c0" stroke-width="1"/>
<line x1="662.5" y1="602.5" x2="664.5" y2="602.5" stroke="#c0c0c0" stroke-width="1"/>
<line x1="662.5" y1="594.5" x2="664.5" y2="594.5" stroke="#c0c0c0" stroke-width="1"/>
<line x1="662.5" y1="585.5" x2="664.5" y2="585.5" stroke="#c0c0c0" stroke-width="1"/>
<line x1="662.5" y1="577.5" x2="664.5" y2="577.5" stroke="#c0c0c0" stroke-width="1"/>
<line x1="662.5" y1="568.5" x2="664.5" y2="568.5" stroke="#c0c0c0" stroke-width="1"/>
<line x1="662.5" y1="560.5" x2="664.5" y2="560.5" stroke="#c0c0c0" stroke-width="1"/>
<line x1="662.5" y1="551.5" x2="664.5" y2="551.5" stroke="#c0c0c0" stroke-width="1"/>
<line x1="662.5" y1="543.5" x2="664.5" y2="543.5" stroke="#c0c0c0" stroke-width="1"/>
<line x1="662.5" y1="534.5" x2="664.5" y2="534.5" stroke="#c0c0c0" stroke-width="1"/>
<line x1="662.5" y1="606.5" x2="665.5" y2="606.5" stroke="#c4c4c4" stroke-width="1"/>
<line x1="662.5" y1="598.5" x2="665.5" y2="598.5" stroke="#c4c4c4" stroke-width="1"/>
<line x1="662.5" y1="589.5" x2="665.5" y2="589.5" stroke="#c4c4c4" stroke-width="1"/>
<line x1="662.5" y1="581.5" x2="665.5" y2="581.5" stroke="#c4c4c4" stroke-width="1"/>
<line x1="662.5" y1="572.5" x2="665.5" y2="572.5" stroke="#c4c4c4" stroke-width="1"/>
<line x1="662.5" y1="564.5" x2="665.5" y2="564.5" stroke="#c4c4c4" stroke-width="1"/>
<line x1="662.5" y1="556.5" x2="665.5" y2="556.5" stroke="#c4c4c4" stroke-width="1"/>
<line x1="662.5" y1="547.5" x2="665.5" y2="547.5" stroke="#c4c4c4" stroke-width="1"/>
<line x1="662.5" y1="539.5" x2="665.5" y2="539.5" stroke="#c4c4c4" stroke-width="1"/>
<text x="665.8" y="550.46" font-family="'Liberation Sans', 'Liberation Sans', sans-serif" font-size="10.3" font-weight="normal" fill="#000" text-anchor="start" textLength="11.4" lengthAdjust="spacingAndGlyphs" >80</text>
<text x="665.8" y="575.86" font-family="'Liberation Sans', 'Liberation Sans', sans-serif" font-size="10.3" font-weight="normal" fill="#000" text-anchor="start" textLength="11.4" lengthAdjust="spacingAndGlyphs" >50</text>
<text x="665.8" y="601.27" font-family="'Liberation Sans', 'Liberation Sans', sans-serif" font-size="10.3" font-weight="normal" fill="#000" text-anchor="start" textLength="11.4" lengthAdjust="spacingAndGlyphs" >20</text>
<polygon points="660.4,561 664.3,556.3 693,556.3 693,565.7 664.3,565.7" fill="#fff" stroke="#ff0000" stroke-width="1.2" stroke-linejoin="miter"/>
<polygon points="660.4,563.7 664.3,559.1 693,559.1 693,568.3 664.3,568.3" fill="#fff" stroke="#000" stroke-width="1.2" stroke-linejoin="miter"/>
<text x="665.3" y="567.3" font-family="'Liberation Sans', 'Liberation Sans', sans-serif" font-size="10" font-weight="normal" fill="#000" text-anchor="start" textLength="26.2" lengthAdjust="spacingAndGlyphs" >60.47</text>
<line x1="19.4" y1="530.4" x2="27.6" y2="530.4" stroke="#000" stroke-width="2"/>
<text x="31.3" y="534.1" font-family="'DejaVu Sans', 'Liberation Sans', sans-serif" font-size="9.7" font-weight="normal" fill="#000" text-anchor="start" textLength="23.6" lengthAdjust="spacingAndGlyphs" >Slow</text>
<text x="59.1" y="534.1" font-family="'DejaVu Sans', 'Liberation Sans', sans-serif" font-size="9.7" font-weight="normal" fill="#000" text-anchor="start" textLength="22.2" lengthAdjust="spacingAndGlyphs" >STO</text>
<text x="86.5" y="534.1" font-family="'DejaVu Sans', 'Liberation Sans', sans-serif" font-size="9.7" font-weight="normal" fill="#000" text-anchor="start" textLength="41" lengthAdjust="spacingAndGlyphs" >%K(14)</text>
<text x="133.3" y="534.1" font-family="'DejaVu Sans', 'Liberation Sans', sans-serif" font-size="9.7" font-weight="normal" fill="#000" text-anchor="start" textLength="34.8" lengthAdjust="spacingAndGlyphs" >%D(3)</text>
<text x="172.3" y="534.1" font-family="'DejaVu Sans', 'Liberation Sans', sans-serif" font-size="9.7" font-weight="normal" fill="#000" text-anchor="start" textLength="30.2" lengthAdjust="spacingAndGlyphs" >60.47</text>
<text x="202.6" y="534.1" font-family="'DejaVu Sans', 'Liberation Sans', sans-serif" font-size="9.7" font-weight="normal" fill="#000" text-anchor="start" >,</text>
<text x="212.7" y="534.1" font-family="'DejaVu Sans', 'Liberation Sans', sans-serif" font-size="9.7" font-weight="normal" fill="#ff0000" text-anchor="start" textLength="30.5" lengthAdjust="spacingAndGlyphs" >63.49</text>
<text x="51" y="634" font-family="'Liberation Sans', 'Liberation Sans', sans-serif" font-size="11.6" font-weight="bold" fill="#000" text-anchor="middle" textLength="23.6" lengthAdjust="spacingAndGlyphs" >May</text>
<text x="161" y="634" font-family="'Liberation Sans', 'Liberation Sans', sans-serif" font-size="11.6" font-weight="bold" fill="#000" text-anchor="middle" >Jun</text>
<text x="266" y="634" font-family="'Liberation Sans', 'Liberation Sans', sans-serif" font-size="11.6" font-weight="bold" fill="#000" text-anchor="middle" >Jul</text>
<text x="381" y="634" font-family="'Liberation Sans', 'Liberation Sans', sans-serif" font-size="11.6" font-weight="bold" fill="#000" text-anchor="middle" >Aug</text>
<text x="486" y="634" font-family="'Liberation Sans', 'Liberation Sans', sans-serif" font-size="11.6" font-weight="bold" fill="#000" text-anchor="middle" >Sep</text>
<text x="596" y="634" font-family="'Liberation Sans', 'Liberation Sans', sans-serif" font-size="11.6" font-weight="bold" fill="#000" text-anchor="middle" >Oct</text>
<text x="85.2" y="634" font-family="'Liberation Sans', 'Liberation Sans', sans-serif" font-size="10.2" font-weight="normal" fill="#000" text-anchor="middle" >12</text>
<text x="110.2" y="634" font-family="'Liberation Sans', 'Liberation Sans', sans-serif" font-size="10.2" font-weight="normal" fill="#000" text-anchor="middle" >19</text>
<text x="135.2" y="634" font-family="'Liberation Sans', 'Liberation Sans', sans-serif" font-size="10.2" font-weight="normal" fill="#000" text-anchor="middle" >26</text>
<text x="185.2" y="634" font-family="'Liberation Sans', 'Liberation Sans', sans-serif" font-size="10.2" font-weight="normal" fill="#000" text-anchor="middle" >9</text>
<text x="210.2" y="634" font-family="'Liberation Sans', 'Liberation Sans', sans-serif" font-size="10.2" font-weight="normal" fill="#000" text-anchor="middle" >16</text>
<text x="235.2" y="634" font-family="'Liberation Sans', 'Liberation Sans', sans-serif" font-size="10.2" font-weight="normal" fill="#000" text-anchor="middle" >23</text>
<text x="285.2" y="634" font-family="'Liberation Sans', 'Liberation Sans', sans-serif" font-size="10.2" font-weight="normal" fill="#000" text-anchor="middle" >7</text>
<text x="310.2" y="634" font-family="'Liberation Sans', 'Liberation Sans', sans-serif" font-size="10.2" font-weight="normal" fill="#000" text-anchor="middle" >14</text>
<text x="335.2" y="634" font-family="'Liberation Sans', 'Liberation Sans', sans-serif" font-size="10.2" font-weight="normal" fill="#000" text-anchor="middle" >21</text>
<text x="360.2" y="634" font-family="'Liberation Sans', 'Liberation Sans', sans-serif" font-size="10.2" font-weight="normal" fill="#000" text-anchor="middle" >28</text>
<text x="410.2" y="634" font-family="'Liberation Sans', 'Liberation Sans', sans-serif" font-size="10.2" font-weight="normal" fill="#000" text-anchor="middle" >11</text>
<text x="435.2" y="634" font-family="'Liberation Sans', 'Liberation Sans', sans-serif" font-size="10.2" font-weight="normal" fill="#000" text-anchor="middle" >18</text>
<text x="460.2" y="634" font-family="'Liberation Sans', 'Liberation Sans', sans-serif" font-size="10.2" font-weight="normal" fill="#000" text-anchor="middle" >25</text>
<text x="510.2" y="634" font-family="'Liberation Sans', 'Liberation Sans', sans-serif" font-size="10.2" font-weight="normal" fill="#000" text-anchor="middle" >8</text>
<text x="535.2" y="634" font-family="'Liberation Sans', 'Liberation Sans', sans-serif" font-size="10.2" font-weight="normal" fill="#000" text-anchor="middle" >15</text>
<text x="560.2" y="634" font-family="'Liberation Sans', 'Liberation Sans', sans-serif" font-size="10.2" font-weight="normal" fill="#000" text-anchor="middle" >22</text>
<text x="610.2" y="634" font-family="'Liberation Sans', 'Liberation Sans', sans-serif" font-size="10.2" font-weight="normal" fill="#000" text-anchor="middle" >6</text>
<text x="635.2" y="634" font-family="'Liberation Sans', 'Liberation Sans', sans-serif" font-size="10.2" font-weight="normal" fill="#000" text-anchor="middle" >13</text>
</svg>
</body></html>
